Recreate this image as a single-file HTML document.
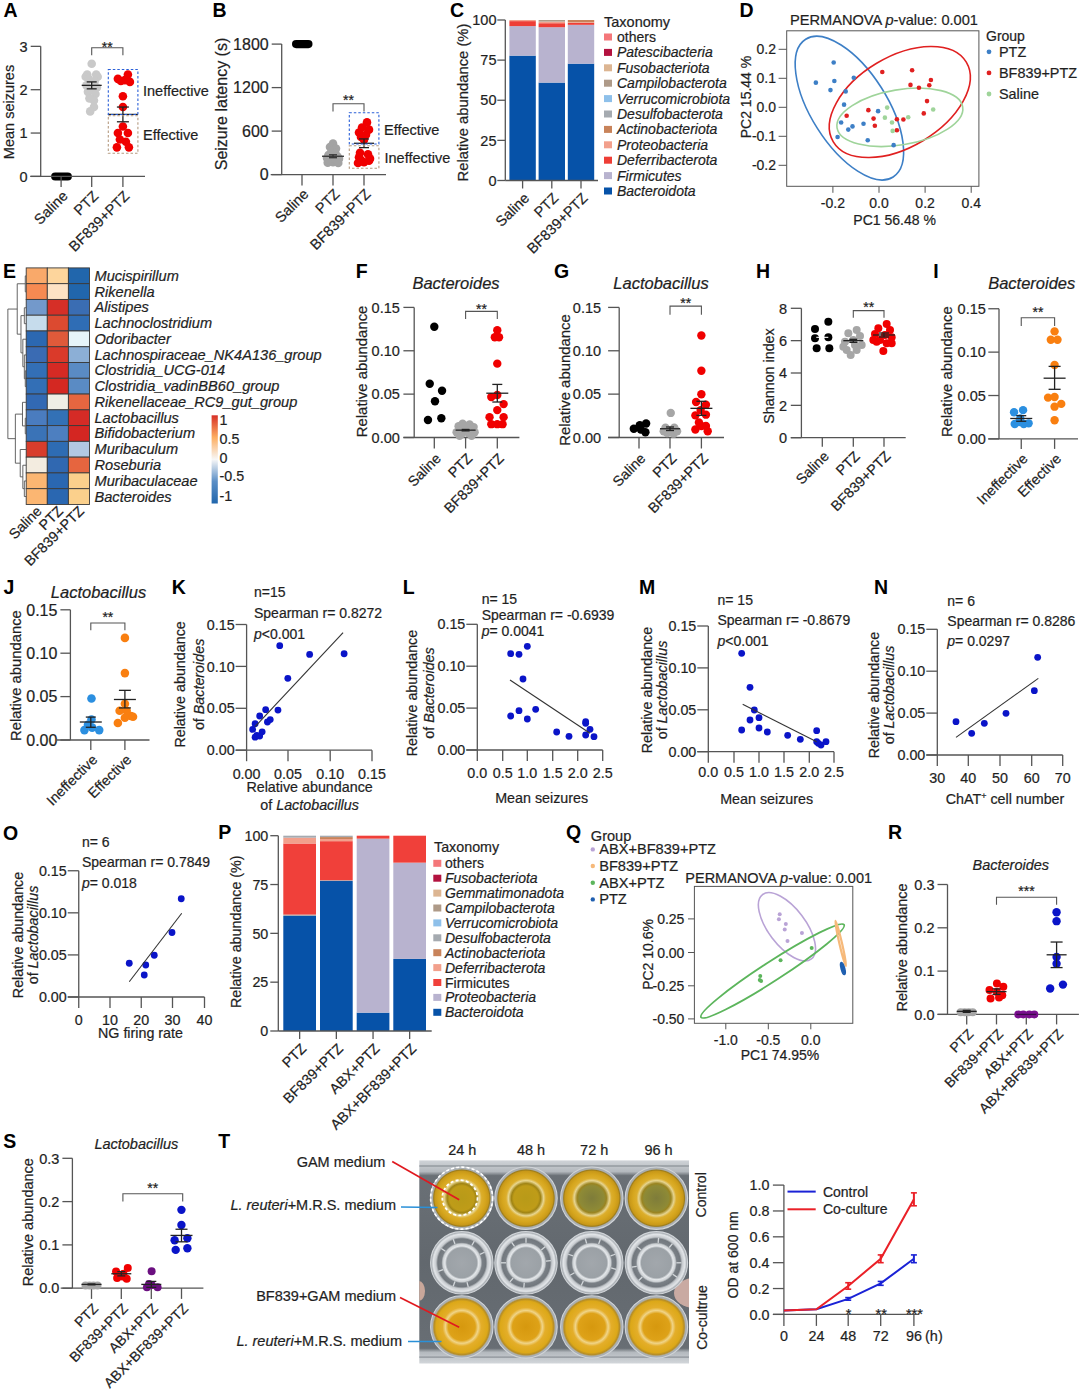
<!DOCTYPE html>
<html><head><meta charset="utf-8"><title>Figure</title>
<style>html,body{margin:0;padding:0;background:#fff;}svg{display:block;}text{font-family:"Liberation Sans", sans-serif;} .tx{stroke:#1f1f1f;stroke-width:0.22px;}</style>
</head><body>
<svg width="1080" height="1389" viewBox="0 0 1080 1389" font-family='"Liberation Sans", sans-serif'>
<rect width="1080" height="1389" fill="#fff"/>
<text x="3.50" y="16.50" font-size="19.5" text-anchor="start" fill="#000" font-weight="bold" >A</text>
<rect x="51.10" y="172.40" width="20.80" height="8.20" fill="#000" rx="4.1"/>
<circle cx="91.70" cy="63.69" r="4.30" fill="#c9c9c9"/>
<circle cx="87.20" cy="74.53" r="4.30" fill="#c9c9c9"/>
<circle cx="96.20" cy="74.53" r="4.30" fill="#c9c9c9"/>
<circle cx="85.70" cy="76.70" r="4.30" fill="#c9c9c9"/>
<circle cx="97.70" cy="76.70" r="4.30" fill="#c9c9c9"/>
<circle cx="88.70" cy="78.86" r="4.30" fill="#c9c9c9"/>
<circle cx="94.70" cy="81.03" r="4.30" fill="#c9c9c9"/>
<circle cx="86.45" cy="85.36" r="4.30" fill="#c9c9c9"/>
<circle cx="96.95" cy="87.53" r="4.30" fill="#c9c9c9"/>
<circle cx="91.70" cy="89.70" r="4.30" fill="#c9c9c9"/>
<circle cx="87.95" cy="91.87" r="4.30" fill="#c9c9c9"/>
<circle cx="95.45" cy="94.04" r="4.30" fill="#c9c9c9"/>
<circle cx="89.45" cy="98.37" r="4.30" fill="#c9c9c9"/>
<circle cx="93.95" cy="100.54" r="4.30" fill="#c9c9c9"/>
<circle cx="93.95" cy="107.04" r="4.30" fill="#c9c9c9"/>
<circle cx="90.20" cy="111.38" r="4.30" fill="#c9c9c9"/>
<line x1="81.70" y1="85.36" x2="101.70" y2="85.36" stroke="#222" stroke-width="1.3"/>
<line x1="91.70" y1="81.90" x2="91.70" y2="88.83" stroke="#222" stroke-width="1.3"/>
<line x1="86.70" y1="81.90" x2="96.70" y2="81.90" stroke="#222" stroke-width="1.3"/>
<line x1="86.70" y1="88.83" x2="96.70" y2="88.83" stroke="#222" stroke-width="1.3"/>
<circle cx="117.90" cy="78.86" r="4.30" fill="#f00000"/>
<circle cx="127.90" cy="74.53" r="4.30" fill="#f00000"/>
<circle cx="124.90" cy="80.16" r="4.30" fill="#f00000"/>
<circle cx="129.90" cy="81.90" r="4.30" fill="#f00000"/>
<circle cx="120.90" cy="81.03" r="4.30" fill="#f00000"/>
<circle cx="122.90" cy="96.20" r="4.30" fill="#f00000"/>
<circle cx="122.90" cy="107.04" r="4.30" fill="#f00000"/>
<circle cx="122.90" cy="126.55" r="4.30" fill="#f00000"/>
<circle cx="117.90" cy="133.05" r="4.30" fill="#f00000"/>
<circle cx="127.90" cy="133.05" r="4.30" fill="#f00000"/>
<circle cx="119.90" cy="139.55" r="4.30" fill="#f00000"/>
<circle cx="125.90" cy="141.72" r="4.30" fill="#f00000"/>
<circle cx="116.90" cy="147.36" r="4.30" fill="#f00000"/>
<circle cx="128.90" cy="147.36" r="4.30" fill="#f00000"/>
<line x1="107.90" y1="114.41" x2="137.90" y2="114.41" stroke="#222" stroke-width="1.3"/>
<line x1="122.90" y1="107.04" x2="122.90" y2="121.78" stroke="#222" stroke-width="1.3"/>
<line x1="116.90" y1="107.04" x2="128.90" y2="107.04" stroke="#222" stroke-width="1.3"/>
<line x1="116.90" y1="121.78" x2="128.90" y2="121.78" stroke="#222" stroke-width="1.3"/>
<rect x="108.3" y="69.5" width="29.6" height="45" fill="none" stroke="#2a5fd8" stroke-width="1.1" stroke-dasharray="2.5,2"/>
<rect x="108.3" y="115.8" width="29.6" height="37.5" fill="none" stroke="#b59a80" stroke-width="1.1" stroke-dasharray="2.5,2"/>
<line x1="40.70" y1="46.35" x2="40.70" y2="176.40" stroke="#555555" stroke-width="1.3"/>
<line x1="30.70" y1="46.35" x2="40.70" y2="46.35" stroke="#555555" stroke-width="1.3"/>
<text x="27.70" y="51.57" font-size="14.5" text-anchor="end" fill="#1f1f1f" class="tx" >3</text>
<line x1="30.70" y1="89.70" x2="40.70" y2="89.70" stroke="#555555" stroke-width="1.3"/>
<text x="27.70" y="94.92" font-size="14.5" text-anchor="end" fill="#1f1f1f" class="tx" >2</text>
<line x1="30.70" y1="133.05" x2="40.70" y2="133.05" stroke="#555555" stroke-width="1.3"/>
<text x="27.70" y="138.27" font-size="14.5" text-anchor="end" fill="#1f1f1f" class="tx" >1</text>
<line x1="30.70" y1="176.40" x2="40.70" y2="176.40" stroke="#555555" stroke-width="1.3"/>
<text x="27.70" y="181.62" font-size="14.5" text-anchor="end" fill="#1f1f1f" class="tx" >0</text>
<line x1="30.20" y1="176.40" x2="145.00" y2="176.40" stroke="#555555" stroke-width="1.3"/>
<line x1="61.10" y1="176.40" x2="61.10" y2="187.10" stroke="#555555" stroke-width="1.3"/>
<line x1="91.70" y1="176.40" x2="91.70" y2="187.10" stroke="#555555" stroke-width="1.3"/>
<line x1="122.90" y1="176.40" x2="122.90" y2="187.10" stroke="#555555" stroke-width="1.3"/>
<text x="68.60" y="196.90" font-size="14.5" text-anchor="end" fill="#1f1f1f" class="tx"  transform="rotate(-45 68.60 196.90)">Saline</text>
<text x="99.20" y="196.90" font-size="14.5" text-anchor="end" fill="#1f1f1f" class="tx"  transform="rotate(-45 99.20 196.90)">PTZ</text>
<text x="130.40" y="196.90" font-size="14.5" text-anchor="end" fill="#1f1f1f" class="tx"  transform="rotate(-45 130.40 196.90)">BF839+PTZ</text>
<text x="14.00" y="112.00" font-size="14.5" text-anchor="middle" fill="#1f1f1f" class="tx"  transform="rotate(-90 14.00 112.00)">Mean seizures</text>
<path d="M91.70,55.20 V47.80 H122.90 V55.20" stroke="#555555" fill="none" stroke-width="1.1"/>
<text x="107.30" y="51.90" font-size="14" text-anchor="middle" fill="#1f1f1f" class="tx" >**</text>
<text x="143.00" y="96.00" font-size="14.5" text-anchor="start" fill="#1f1f1f" class="tx" >Ineffective</text>
<text x="143.00" y="140.00" font-size="14.5" text-anchor="start" fill="#1f1f1f" class="tx" >Effective</text>
<text x="212.50" y="16.50" font-size="19.5" text-anchor="start" fill="#000" font-weight="bold" >B</text>
<rect x="292.00" y="40.00" width="20.50" height="8.20" fill="#000" rx="4.1"/>
<circle cx="333.00" cy="143.43" r="4.30" fill="#a3a3a3"/>
<circle cx="330.00" cy="147.05" r="4.30" fill="#a3a3a3"/>
<circle cx="336.00" cy="148.50" r="4.30" fill="#a3a3a3"/>
<circle cx="331.50" cy="150.68" r="4.30" fill="#a3a3a3"/>
<circle cx="335.25" cy="152.85" r="4.30" fill="#a3a3a3"/>
<circle cx="328.50" cy="155.03" r="4.30" fill="#a3a3a3"/>
<circle cx="337.50" cy="156.47" r="4.30" fill="#a3a3a3"/>
<circle cx="327.00" cy="157.93" r="4.30" fill="#a3a3a3"/>
<circle cx="339.00" cy="158.65" r="4.30" fill="#a3a3a3"/>
<circle cx="329.25" cy="160.10" r="4.30" fill="#a3a3a3"/>
<circle cx="336.75" cy="160.82" r="4.30" fill="#a3a3a3"/>
<circle cx="333.00" cy="162.28" r="4.30" fill="#a3a3a3"/>
<circle cx="327.75" cy="162.64" r="4.30" fill="#a3a3a3"/>
<circle cx="338.25" cy="163.00" r="4.30" fill="#a3a3a3"/>
<line x1="322.00" y1="156.26" x2="344.00" y2="156.26" stroke="#333" stroke-width="1.3"/>
<line x1="333.00" y1="154.81" x2="333.00" y2="157.71" stroke="#333" stroke-width="1.3"/>
<line x1="329.00" y1="154.81" x2="337.00" y2="154.81" stroke="#333" stroke-width="1.3"/>
<line x1="329.00" y1="157.71" x2="337.00" y2="157.71" stroke="#333" stroke-width="1.3"/>
<circle cx="367.00" cy="122.40" r="4.30" fill="#f00000"/>
<circle cx="362.00" cy="127.47" r="4.30" fill="#f00000"/>
<circle cx="369.00" cy="129.65" r="4.30" fill="#f00000"/>
<circle cx="359.00" cy="132.55" r="4.30" fill="#f00000"/>
<circle cx="366.00" cy="134.72" r="4.30" fill="#f00000"/>
<circle cx="361.00" cy="136.90" r="4.30" fill="#f00000"/>
<circle cx="364.00" cy="139.80" r="4.30" fill="#f00000"/>
<circle cx="360.00" cy="152.85" r="4.30" fill="#f00000"/>
<circle cx="368.00" cy="154.30" r="4.30" fill="#f00000"/>
<circle cx="359.00" cy="157.20" r="4.30" fill="#f00000"/>
<circle cx="370.00" cy="158.65" r="4.30" fill="#f00000"/>
<circle cx="361.00" cy="160.10" r="4.30" fill="#f00000"/>
<circle cx="369.00" cy="160.82" r="4.30" fill="#f00000"/>
<circle cx="364.00" cy="162.28" r="4.30" fill="#f00000"/>
<circle cx="358.00" cy="163.00" r="4.30" fill="#f00000"/>
<line x1="354.00" y1="143.28" x2="374.00" y2="143.28" stroke="#222" stroke-width="1.3"/>
<line x1="364.00" y1="138.93" x2="364.00" y2="147.63" stroke="#222" stroke-width="1.3"/>
<line x1="359.00" y1="138.93" x2="369.00" y2="138.93" stroke="#222" stroke-width="1.3"/>
<line x1="359.00" y1="147.63" x2="369.00" y2="147.63" stroke="#222" stroke-width="1.3"/>
<rect x="349.3" y="112.8" width="29.6" height="31.2" fill="none" stroke="#2a5fd8" stroke-width="1.1" stroke-dasharray="2.5,2"/>
<rect x="349.3" y="145.8" width="29.6" height="22.5" fill="none" stroke="#b59a80" stroke-width="1.1" stroke-dasharray="2.5,2"/>
<line x1="281.70" y1="44.10" x2="281.70" y2="174.60" stroke="#555555" stroke-width="1.3"/>
<line x1="271.70" y1="44.10" x2="281.70" y2="44.10" stroke="#555555" stroke-width="1.3"/>
<text x="268.70" y="49.86" font-size="16" text-anchor="end" fill="#1f1f1f" class="tx" >1800</text>
<line x1="271.70" y1="87.60" x2="281.70" y2="87.60" stroke="#555555" stroke-width="1.3"/>
<text x="268.70" y="93.36" font-size="16" text-anchor="end" fill="#1f1f1f" class="tx" >1200</text>
<line x1="271.70" y1="131.10" x2="281.70" y2="131.10" stroke="#555555" stroke-width="1.3"/>
<text x="268.70" y="136.86" font-size="16" text-anchor="end" fill="#1f1f1f" class="tx" >600</text>
<line x1="271.70" y1="174.60" x2="281.70" y2="174.60" stroke="#555555" stroke-width="1.3"/>
<text x="268.70" y="180.36" font-size="16" text-anchor="end" fill="#1f1f1f" class="tx" >0</text>
<line x1="270.70" y1="174.60" x2="386.00" y2="174.60" stroke="#555555" stroke-width="1.3"/>
<line x1="302.00" y1="174.60" x2="302.00" y2="185.60" stroke="#555555" stroke-width="1.3"/>
<line x1="333.00" y1="174.60" x2="333.00" y2="185.60" stroke="#555555" stroke-width="1.3"/>
<line x1="364.00" y1="174.60" x2="364.00" y2="185.60" stroke="#555555" stroke-width="1.3"/>
<text x="309.50" y="195.10" font-size="14.5" text-anchor="end" fill="#1f1f1f" class="tx"  transform="rotate(-45 309.50 195.10)">Saline</text>
<text x="340.50" y="195.10" font-size="14.5" text-anchor="end" fill="#1f1f1f" class="tx"  transform="rotate(-45 340.50 195.10)">PTZ</text>
<text x="371.50" y="195.10" font-size="14.5" text-anchor="end" fill="#1f1f1f" class="tx"  transform="rotate(-45 371.50 195.10)">BF839+PTZ</text>
<text x="226.50" y="104.00" font-size="16" text-anchor="middle" fill="#1f1f1f" class="tx"  transform="rotate(-90 226.50 104.00)">Seizure latency (s)</text>
<path d="M333.00,111.45 V103.75 H364.00 V111.45" stroke="#555555" fill="none" stroke-width="1.1"/>
<text x="348.50" y="105.45" font-size="14" text-anchor="middle" fill="#1f1f1f" class="tx" >**</text>
<text x="384.00" y="135.00" font-size="14.5" text-anchor="start" fill="#1f1f1f" class="tx" >Effective</text>
<text x="384.50" y="163.00" font-size="14.5" text-anchor="start" fill="#1f1f1f" class="tx" >Ineffective</text>
<text x="450.00" y="16.50" font-size="19.5" text-anchor="start" fill="#000" font-weight="bold" >C</text>
<rect x="509.40" y="55.63" width="26.40" height="124.87" fill="#0652a8"/>
<rect x="509.40" y="26.10" width="26.40" height="29.53" fill="#b8b3cf"/>
<rect x="509.40" y="21.12" width="26.40" height="4.98" fill="#ee3e36"/>
<rect x="509.40" y="20.00" width="26.40" height="1.12" fill="#f2a08c"/>
<rect x="538.60" y="82.59" width="26.40" height="97.91" fill="#0652a8"/>
<rect x="538.60" y="27.22" width="26.40" height="55.37" fill="#b8b3cf"/>
<rect x="538.60" y="23.21" width="26.40" height="4.01" fill="#ee3e36"/>
<rect x="538.60" y="21.60" width="26.40" height="1.61" fill="#f2a08c"/>
<rect x="538.60" y="20.00" width="26.40" height="1.60" fill="#ae9a88"/>
<rect x="567.80" y="63.66" width="26.40" height="116.84" fill="#0652a8"/>
<rect x="567.80" y="24.81" width="26.40" height="38.84" fill="#b8b3cf"/>
<rect x="567.80" y="22.89" width="26.40" height="1.93" fill="#ee3e36"/>
<rect x="567.80" y="22.25" width="26.40" height="0.64" fill="#f2a08c"/>
<rect x="567.80" y="20.00" width="26.40" height="2.25" fill="#c8835a"/>
<line x1="505.30" y1="20.00" x2="505.30" y2="180.50" stroke="#555555" stroke-width="1.3"/>
<line x1="497.30" y1="20.00" x2="505.30" y2="20.00" stroke="#555555" stroke-width="1.3"/>
<text x="496.50" y="25.22" font-size="14.5" text-anchor="end" fill="#1f1f1f" class="tx" >100</text>
<line x1="497.30" y1="60.12" x2="505.30" y2="60.12" stroke="#555555" stroke-width="1.3"/>
<text x="496.50" y="65.34" font-size="14.5" text-anchor="end" fill="#1f1f1f" class="tx" >75</text>
<line x1="497.30" y1="100.25" x2="505.30" y2="100.25" stroke="#555555" stroke-width="1.3"/>
<text x="496.50" y="105.47" font-size="14.5" text-anchor="end" fill="#1f1f1f" class="tx" >50</text>
<line x1="497.30" y1="140.38" x2="505.30" y2="140.38" stroke="#555555" stroke-width="1.3"/>
<text x="496.50" y="145.59" font-size="14.5" text-anchor="end" fill="#1f1f1f" class="tx" >25</text>
<line x1="497.30" y1="180.50" x2="505.30" y2="180.50" stroke="#555555" stroke-width="1.3"/>
<text x="496.50" y="185.72" font-size="14.5" text-anchor="end" fill="#1f1f1f" class="tx" >0</text>
<line x1="505.30" y1="180.50" x2="598.00" y2="180.50" stroke="#555555" stroke-width="1.3"/>
<line x1="522.60" y1="180.50" x2="522.60" y2="188.50" stroke="#555555" stroke-width="1.3"/>
<line x1="551.80" y1="180.50" x2="551.80" y2="188.50" stroke="#555555" stroke-width="1.3"/>
<line x1="581.00" y1="180.50" x2="581.00" y2="188.50" stroke="#555555" stroke-width="1.3"/>
<text x="530.10" y="199.00" font-size="14.5" text-anchor="end" fill="#1f1f1f" class="tx"  transform="rotate(-45 530.10 199.00)">Saline</text>
<text x="559.30" y="199.00" font-size="14.5" text-anchor="end" fill="#1f1f1f" class="tx"  transform="rotate(-45 559.30 199.00)">PTZ</text>
<text x="588.50" y="199.00" font-size="14.5" text-anchor="end" fill="#1f1f1f" class="tx"  transform="rotate(-45 588.50 199.00)">BF839+PTZ</text>
<text x="468.00" y="102.50" font-size="14.8" text-anchor="middle" fill="#1f1f1f" class="tx"  transform="rotate(-90 468.00 102.50)">Relative abundance (%)</text>
<text x="604.00" y="27.00" font-size="14.5" text-anchor="start" fill="#1f1f1f" class="tx" >Taxonomy</text>
<rect x="604.00" y="33.50" width="8.00" height="7.00" fill="#f4777a"/>
<text x="617.00" y="42.00" font-size="14" text-anchor="start" fill="#1f1f1f" class="tx" >others</text>
<rect x="604.00" y="48.90" width="8.00" height="7.00" fill="#b3123f"/>
<text x="617.00" y="57.40" font-size="14" text-anchor="start" fill="#1f1f1f" class="tx" font-style="italic" >Patescibacteria</text>
<rect x="604.00" y="64.30" width="8.00" height="7.00" fill="#dcb592"/>
<text x="617.00" y="72.80" font-size="14" text-anchor="start" fill="#1f1f1f" class="tx" font-style="italic" >Fusobacteriota</text>
<rect x="604.00" y="79.70" width="8.00" height="7.00" fill="#ae9a88"/>
<text x="617.00" y="88.20" font-size="14" text-anchor="start" fill="#1f1f1f" class="tx" font-style="italic" >Campilobacterota</text>
<rect x="604.00" y="95.10" width="8.00" height="7.00" fill="#8ec0ea"/>
<text x="617.00" y="103.60" font-size="14" text-anchor="start" fill="#1f1f1f" class="tx" font-style="italic" >Verrucomicrobiota</text>
<rect x="604.00" y="110.50" width="8.00" height="7.00" fill="#a5aab0"/>
<text x="617.00" y="119.00" font-size="14" text-anchor="start" fill="#1f1f1f" class="tx" font-style="italic" >Desulfobacterota</text>
<rect x="604.00" y="125.90" width="8.00" height="7.00" fill="#c8835a"/>
<text x="617.00" y="134.40" font-size="14" text-anchor="start" fill="#1f1f1f" class="tx" font-style="italic" >Actinobacteriota</text>
<rect x="604.00" y="141.30" width="8.00" height="7.00" fill="#f2a08c"/>
<text x="617.00" y="149.80" font-size="14" text-anchor="start" fill="#1f1f1f" class="tx" font-style="italic" >Proteobacteria</text>
<rect x="604.00" y="156.70" width="8.00" height="7.00" fill="#ee3e36"/>
<text x="617.00" y="165.20" font-size="14" text-anchor="start" fill="#1f1f1f" class="tx" font-style="italic" >Deferribacterota</text>
<rect x="604.00" y="172.10" width="8.00" height="7.00" fill="#b8b3cf"/>
<text x="617.00" y="180.60" font-size="14" text-anchor="start" fill="#1f1f1f" class="tx" font-style="italic" >Firmicutes</text>
<rect x="604.00" y="187.50" width="8.00" height="7.00" fill="#0652a8"/>
<text x="617.00" y="196.00" font-size="14" text-anchor="start" fill="#1f1f1f" class="tx" font-style="italic" >Bacteroidota</text>
<text x="739.50" y="16.50" font-size="19.5" text-anchor="start" fill="#000" font-weight="bold" >D</text>
<text x="790.00" y="25.00" font-size="14.6" text-anchor="start" fill="#1f1f1f" class="tx" >PERMANOVA <tspan font-style="italic">p</tspan>-value: 0.001</text>
<rect x="786.7" y="30.8" width="192.19999999999993" height="155.5" fill="none" stroke="#555" stroke-width="1"/>
<line x1="778.60" y1="49.30" x2="786.70" y2="49.30" stroke="#555" stroke-width="1"/>
<text x="776.00" y="54.30" font-size="14" text-anchor="end" fill="#1f1f1f" class="tx" >0.2</text>
<line x1="778.60" y1="78.30" x2="786.70" y2="78.30" stroke="#555" stroke-width="1"/>
<text x="776.00" y="83.30" font-size="14" text-anchor="end" fill="#1f1f1f" class="tx" >0.1</text>
<line x1="778.60" y1="107.30" x2="786.70" y2="107.30" stroke="#555" stroke-width="1"/>
<text x="776.00" y="112.30" font-size="14" text-anchor="end" fill="#1f1f1f" class="tx" >0.0</text>
<line x1="778.60" y1="136.30" x2="786.70" y2="136.30" stroke="#555" stroke-width="1"/>
<text x="776.00" y="141.30" font-size="14" text-anchor="end" fill="#1f1f1f" class="tx" >-0.1</text>
<line x1="778.60" y1="165.30" x2="786.70" y2="165.30" stroke="#555" stroke-width="1"/>
<text x="776.00" y="170.30" font-size="14" text-anchor="end" fill="#1f1f1f" class="tx" >-0.2</text>
<line x1="832.90" y1="186.30" x2="832.90" y2="192.80" stroke="#555" stroke-width="1"/>
<text x="832.90" y="207.50" font-size="14" text-anchor="middle" fill="#1f1f1f" class="tx" >-0.2</text>
<line x1="879.00" y1="186.30" x2="879.00" y2="192.80" stroke="#555" stroke-width="1"/>
<text x="879.00" y="207.50" font-size="14" text-anchor="middle" fill="#1f1f1f" class="tx" >0.0</text>
<line x1="925.10" y1="186.30" x2="925.10" y2="192.80" stroke="#555" stroke-width="1"/>
<text x="925.10" y="207.50" font-size="14" text-anchor="middle" fill="#1f1f1f" class="tx" >0.2</text>
<line x1="971.20" y1="186.30" x2="971.20" y2="192.80" stroke="#555" stroke-width="1"/>
<text x="971.20" y="207.50" font-size="14" text-anchor="middle" fill="#1f1f1f" class="tx" >0.4</text>
<text x="894.60" y="225.00" font-size="14" text-anchor="middle" fill="#1f1f1f" class="tx" >PC1 56.48 %</text>
<text x="751.00" y="97.00" font-size="14" text-anchor="middle" fill="#1f1f1f" class="tx"  transform="rotate(-90 751.00 97.00)">PC2 15.44 %</text>
<ellipse cx="849.4" cy="108.1" rx="81.6" ry="37.9" transform="rotate(57.6 849.4 108.1)" fill="none" stroke="#3d7fc6" stroke-width="1.6"/>
<ellipse cx="899.8" cy="102" rx="77.5" ry="45.1" transform="rotate(-30.9 899.8 102)" fill="none" stroke="#e02020" stroke-width="1.6"/>
<ellipse cx="899.85" cy="117.35" rx="63.7" ry="27.6" transform="rotate(-9.55 899.85 117.35)" fill="none" stroke="#9fd49a" stroke-width="1.6"/>
<circle cx="815.87" cy="82.63" r="2.30" fill="#3d7fc6"/>
<circle cx="833.69" cy="62.54" r="2.30" fill="#3d7fc6"/>
<circle cx="834.34" cy="81.01" r="2.30" fill="#3d7fc6"/>
<circle cx="830.45" cy="90.08" r="2.30" fill="#3d7fc6"/>
<circle cx="853.78" cy="77.77" r="2.30" fill="#3d7fc6"/>
<circle cx="845.68" cy="91.38" r="2.30" fill="#3d7fc6"/>
<circle cx="844.06" cy="104.67" r="2.30" fill="#3d7fc6"/>
<circle cx="841.15" cy="122.49" r="2.30" fill="#3d7fc6"/>
<circle cx="852.49" cy="126.38" r="2.30" fill="#3d7fc6"/>
<circle cx="848.28" cy="129.62" r="2.30" fill="#3d7fc6"/>
<circle cx="837.58" cy="137.07" r="2.30" fill="#3d7fc6"/>
<circle cx="863.51" cy="123.78" r="2.30" fill="#3d7fc6"/>
<circle cx="867.72" cy="140.31" r="2.30" fill="#3d7fc6"/>
<circle cx="878.09" cy="111.15" r="2.30" fill="#3d7fc6"/>
<circle cx="893.64" cy="145.17" r="2.30" fill="#3d7fc6"/>
<circle cx="882.30" cy="71.94" r="2.30" fill="#e02020"/>
<circle cx="912.11" cy="70.32" r="2.30" fill="#e02020"/>
<circle cx="910.49" cy="84.90" r="2.30" fill="#e02020"/>
<circle cx="930.91" cy="80.04" r="2.30" fill="#e02020"/>
<circle cx="929.29" cy="85.22" r="2.30" fill="#e02020"/>
<circle cx="918.92" cy="87.82" r="2.30" fill="#e02020"/>
<circle cx="927.02" cy="101.10" r="2.30" fill="#e02020"/>
<circle cx="923.78" cy="113.42" r="2.30" fill="#e02020"/>
<circle cx="868.37" cy="110.17" r="2.30" fill="#e02020"/>
<circle cx="846.66" cy="115.68" r="2.30" fill="#e02020"/>
<circle cx="873.55" cy="118.60" r="2.30" fill="#e02020"/>
<circle cx="874.85" cy="125.73" r="2.30" fill="#e02020"/>
<circle cx="896.88" cy="119.25" r="2.30" fill="#e02020"/>
<circle cx="903.36" cy="119.57" r="2.30" fill="#e02020"/>
<circle cx="896.88" cy="130.27" r="2.30" fill="#e02020"/>
<circle cx="887.16" cy="107.58" r="2.30" fill="#9fd49a"/>
<circle cx="884.89" cy="117.63" r="2.30" fill="#9fd49a"/>
<circle cx="892.02" cy="122.49" r="2.30" fill="#9fd49a"/>
<circle cx="892.67" cy="130.91" r="2.30" fill="#9fd49a"/>
<circle cx="908.22" cy="117.30" r="2.30" fill="#9fd49a"/>
<circle cx="933.18" cy="109.53" r="2.30" fill="#9fd49a"/>
<text x="986.00" y="40.50" font-size="14" text-anchor="start" fill="#1f1f1f" class="tx" >Group</text>
<circle cx="989.00" cy="51.80" r="2.40" fill="#3d7fc6"/>
<text x="999.00" y="56.80" font-size="14.4" text-anchor="start" fill="#1f1f1f" class="tx" >PTZ</text>
<circle cx="989.00" cy="72.90" r="2.40" fill="#e02020"/>
<text x="999.00" y="77.90" font-size="14.4" text-anchor="start" fill="#1f1f1f" class="tx" >BF839+PTZ</text>
<circle cx="989.00" cy="94.00" r="2.40" fill="#9fd49a"/>
<text x="999.00" y="99.00" font-size="14.4" text-anchor="start" fill="#1f1f1f" class="tx" >Saline</text>
<text x="3.00" y="277.50" font-size="19.5" text-anchor="start" fill="#000" font-weight="bold" >E</text>
<rect x="26.20" y="267.90" width="21.10" height="15.77" fill="#f9a96a" stroke="#3a3a3a" stroke-width="0.9"/>
<rect x="47.30" y="267.90" width="21.10" height="15.77" fill="#fdd59c" stroke="#3a3a3a" stroke-width="0.9"/>
<rect x="68.40" y="267.90" width="21.10" height="15.77" fill="#2166ac" stroke="#3a3a3a" stroke-width="0.9"/>
<text x="94.50" y="280.78" font-size="14.6" text-anchor="start" fill="#1f1f1f" class="tx" font-style="italic" >Mucispirillum</text>
<rect x="26.20" y="283.67" width="21.10" height="15.77" fill="#f68a52" stroke="#3a3a3a" stroke-width="0.9"/>
<rect x="47.30" y="283.67" width="21.10" height="15.77" fill="#fde2c4" stroke="#3a3a3a" stroke-width="0.9"/>
<rect x="68.40" y="283.67" width="21.10" height="15.77" fill="#2166ac" stroke="#3a3a3a" stroke-width="0.9"/>
<text x="94.50" y="296.55" font-size="14.6" text-anchor="start" fill="#1f1f1f" class="tx" font-style="italic" >Rikenella</text>
<rect x="26.20" y="299.44" width="21.10" height="15.77" fill="#7399cb" stroke="#3a3a3a" stroke-width="0.9"/>
<rect x="47.30" y="299.44" width="21.10" height="15.77" fill="#d62f27" stroke="#3a3a3a" stroke-width="0.9"/>
<rect x="68.40" y="299.44" width="21.10" height="15.77" fill="#3a6db3" stroke="#3a3a3a" stroke-width="0.9"/>
<text x="94.50" y="312.32" font-size="14.6" text-anchor="start" fill="#1f1f1f" class="tx" font-style="italic" >Alistipes</text>
<rect x="26.20" y="315.21" width="21.10" height="15.77" fill="#c6dcec" stroke="#3a3a3a" stroke-width="0.9"/>
<rect x="47.30" y="315.21" width="21.10" height="15.77" fill="#dc4a30" stroke="#3a3a3a" stroke-width="0.9"/>
<rect x="68.40" y="315.21" width="21.10" height="15.77" fill="#2f6db5" stroke="#3a3a3a" stroke-width="0.9"/>
<text x="94.50" y="328.09" font-size="14.6" text-anchor="start" fill="#1f1f1f" class="tx" font-style="italic" >Lachnoclostridium</text>
<rect x="26.20" y="330.98" width="21.10" height="15.77" fill="#2c68b1" stroke="#3a3a3a" stroke-width="0.9"/>
<rect x="47.30" y="330.98" width="21.10" height="15.77" fill="#e05a3a" stroke="#3a3a3a" stroke-width="0.9"/>
<rect x="68.40" y="330.98" width="21.10" height="15.77" fill="#e6f4f9" stroke="#3a3a3a" stroke-width="0.9"/>
<text x="94.50" y="343.86" font-size="14.6" text-anchor="start" fill="#1f1f1f" class="tx" font-style="italic" >Odoribacter</text>
<rect x="26.20" y="346.75" width="21.10" height="15.77" fill="#3a6bb3" stroke="#3a3a3a" stroke-width="0.9"/>
<rect x="47.30" y="346.75" width="21.10" height="15.77" fill="#da3a2a" stroke="#3a3a3a" stroke-width="0.9"/>
<rect x="68.40" y="346.75" width="21.10" height="15.77" fill="#8cafd6" stroke="#3a3a3a" stroke-width="0.9"/>
<text x="94.50" y="359.63" font-size="14.6" text-anchor="start" fill="#1f1f1f" class="tx" font-style="italic" >Lachnospiraceae_NK4A136_group</text>
<rect x="26.20" y="362.52" width="21.10" height="15.77" fill="#336fb6" stroke="#3a3a3a" stroke-width="0.9"/>
<rect x="47.30" y="362.52" width="21.10" height="15.77" fill="#d52a24" stroke="#3a3a3a" stroke-width="0.9"/>
<rect x="68.40" y="362.52" width="21.10" height="15.77" fill="#5a8bc4" stroke="#3a3a3a" stroke-width="0.9"/>
<text x="94.50" y="375.40" font-size="14.6" text-anchor="start" fill="#1f1f1f" class="tx" font-style="italic" >Clostridia_UCG-014</text>
<rect x="26.20" y="378.29" width="21.10" height="15.77" fill="#336fb6" stroke="#3a3a3a" stroke-width="0.9"/>
<rect x="47.30" y="378.29" width="21.10" height="15.77" fill="#d42822" stroke="#3a3a3a" stroke-width="0.9"/>
<rect x="68.40" y="378.29" width="21.10" height="15.77" fill="#5a8bc4" stroke="#3a3a3a" stroke-width="0.9"/>
<text x="94.50" y="391.17" font-size="14.6" text-anchor="start" fill="#1f1f1f" class="tx" font-style="italic" >Clostridia_vadinBB60_group</text>
<rect x="26.20" y="394.06" width="21.10" height="15.77" fill="#3269b3" stroke="#3a3a3a" stroke-width="0.9"/>
<rect x="47.30" y="394.06" width="21.10" height="15.77" fill="#efefe6" stroke="#3a3a3a" stroke-width="0.9"/>
<rect x="68.40" y="394.06" width="21.10" height="15.77" fill="#e56640" stroke="#3a3a3a" stroke-width="0.9"/>
<text x="94.50" y="406.94" font-size="14.6" text-anchor="start" fill="#1f1f1f" class="tx" font-style="italic" >Rikenellaceae_RC9_gut_group</text>
<rect x="26.20" y="409.83" width="21.10" height="15.77" fill="#4a7cbf" stroke="#3a3a3a" stroke-width="0.9"/>
<rect x="47.30" y="409.83" width="21.10" height="15.77" fill="#3371b6" stroke="#3a3a3a" stroke-width="0.9"/>
<rect x="68.40" y="409.83" width="21.10" height="15.77" fill="#d52b26" stroke="#3a3a3a" stroke-width="0.9"/>
<text x="94.50" y="422.71" font-size="14.6" text-anchor="start" fill="#1f1f1f" class="tx" font-style="italic" >Lactobacillus</text>
<rect x="26.20" y="425.60" width="21.10" height="15.77" fill="#3a73b7" stroke="#3a3a3a" stroke-width="0.9"/>
<rect x="47.30" y="425.60" width="21.10" height="15.77" fill="#4d7fc0" stroke="#3a3a3a" stroke-width="0.9"/>
<rect x="68.40" y="425.60" width="21.10" height="15.77" fill="#d42622" stroke="#3a3a3a" stroke-width="0.9"/>
<text x="94.50" y="438.48" font-size="14.6" text-anchor="start" fill="#1f1f1f" class="tx" font-style="italic" >Bifidobacterium</text>
<rect x="26.20" y="441.37" width="21.10" height="15.77" fill="#d83d2c" stroke="#3a3a3a" stroke-width="0.9"/>
<rect x="47.30" y="441.37" width="21.10" height="15.77" fill="#2e6cb3" stroke="#3a3a3a" stroke-width="0.9"/>
<rect x="68.40" y="441.37" width="21.10" height="15.77" fill="#b2c8e2" stroke="#3a3a3a" stroke-width="0.9"/>
<text x="94.50" y="454.25" font-size="14.6" text-anchor="start" fill="#1f1f1f" class="tx" font-style="italic" >Muribaculum</text>
<rect x="26.20" y="457.14" width="21.10" height="15.77" fill="#f3ece0" stroke="#3a3a3a" stroke-width="0.9"/>
<rect x="47.30" y="457.14" width="21.10" height="15.77" fill="#3068b1" stroke="#3a3a3a" stroke-width="0.9"/>
<rect x="68.40" y="457.14" width="21.10" height="15.77" fill="#e6653f" stroke="#3a3a3a" stroke-width="0.9"/>
<text x="94.50" y="470.02" font-size="14.6" text-anchor="start" fill="#1f1f1f" class="tx" font-style="italic" >Roseburia</text>
<rect x="26.20" y="472.91" width="21.10" height="15.77" fill="#fbb672" stroke="#3a3a3a" stroke-width="0.9"/>
<rect x="47.30" y="472.91" width="21.10" height="15.77" fill="#2a67b1" stroke="#3a3a3a" stroke-width="0.9"/>
<rect x="68.40" y="472.91" width="21.10" height="15.77" fill="#fbd08c" stroke="#3a3a3a" stroke-width="0.9"/>
<text x="94.50" y="485.79" font-size="14.6" text-anchor="start" fill="#1f1f1f" class="tx" font-style="italic" >Muribaculaceae</text>
<rect x="26.20" y="488.68" width="21.10" height="15.77" fill="#fbb672" stroke="#3a3a3a" stroke-width="0.9"/>
<rect x="47.30" y="488.68" width="21.10" height="15.77" fill="#2a67b1" stroke="#3a3a3a" stroke-width="0.9"/>
<rect x="68.40" y="488.68" width="21.10" height="15.77" fill="#fbd08c" stroke="#3a3a3a" stroke-width="0.9"/>
<text x="94.50" y="501.56" font-size="14.6" text-anchor="start" fill="#1f1f1f" class="tx" font-style="italic" >Bacteroides</text>
<path d="M26.22,275.92H25.28 M26.22,291.84H25.28 M25.28,275.92V291.84 M25.28,283.78H17.23 M26.22,370.86H25.28 M26.22,386.59H25.28 M25.28,370.86V386.59 M25.28,378.73H24.34 M26.22,354.94H24.34 M24.34,354.94V378.73 M24.34,366.74H22.85 M26.22,339.21H22.85 M22.85,339.21V366.74 M22.85,352.88H20.97 M26.22,307.75H24.34 M26.22,323.67H24.34 M24.34,307.75V323.67 M24.34,315.62H20.97 M20.97,315.62V352.88 M20.97,334.16H17.23 M17.23,283.78V334.16 M17.23,309.06H7.87 M26.22,418.24H25.28 M26.22,433.78H25.28 M25.28,418.24V433.78 M25.28,425.92H22.47 M26.22,402.32H22.47 M22.47,402.32V425.92 M22.47,414.12H15.36 M26.22,480.97H24.34 M26.22,496.52H24.34 M24.34,480.97V496.52 M24.34,488.65H22.85 M26.22,465.24H22.85 M22.85,465.24V488.65 M22.85,476.85H20.22 M26.22,449.51H20.22 M20.22,449.51V476.85 M20.22,463.18H15.36 M15.36,414.12V463.18 M15.36,438.65H7.87 M7.87,309.06V438.65" stroke="#555" fill="none" stroke-width="0.9"/>
<defs><linearGradient id="cb" x1="0" y1="0" x2="0" y2="1"><stop offset="0" stop-color="#d73027"/><stop offset="0.25" stop-color="#fdae61"/><stop offset="0.5" stop-color="#f7f7f7"/><stop offset="0.75" stop-color="#5b8fc6"/><stop offset="1" stop-color="#2166ac"/></linearGradient></defs>
<rect x="211.60" y="415.30" width="6.20" height="88.20" fill="url(#cb)"/>
<text x="219.50" y="425.00" font-size="14.3" text-anchor="start" fill="#1f1f1f" class="tx" >1</text>
<text x="219.50" y="444.00" font-size="14.3" text-anchor="start" fill="#1f1f1f" class="tx" >0.5</text>
<text x="219.50" y="462.50" font-size="14.3" text-anchor="start" fill="#1f1f1f" class="tx" >0</text>
<text x="219.50" y="481.00" font-size="14.3" text-anchor="start" fill="#1f1f1f" class="tx" >-0.5</text>
<text x="219.50" y="500.60" font-size="14.3" text-anchor="start" fill="#1f1f1f" class="tx" >-1</text>
<text x="42.75" y="512.00" font-size="14.3" text-anchor="end" fill="#1f1f1f" class="tx"  transform="rotate(-45 42.75 512.00)">Saline</text>
<text x="63.85" y="512.00" font-size="14.3" text-anchor="end" fill="#1f1f1f" class="tx"  transform="rotate(-45 63.85 512.00)">PTZ</text>
<text x="84.95" y="512.00" font-size="14.3" text-anchor="end" fill="#1f1f1f" class="tx"  transform="rotate(-45 84.95 512.00)">BF839+PTZ</text>
<text x="355.80" y="278.00" font-size="19.5" text-anchor="start" fill="#000" font-weight="bold" >F</text>
<text x="456.00" y="289.00" font-size="16.5" text-anchor="middle" fill="#1f1f1f" class="tx" font-style="italic" >Bacteroides</text>
<line x1="414.20" y1="307.40" x2="414.20" y2="437.50" stroke="#555555" stroke-width="1.3"/>
<line x1="403.40" y1="437.50" x2="414.20" y2="437.50" stroke="#555555" stroke-width="1.3"/>
<text x="399.80" y="442.72" font-size="14.5" text-anchor="end" fill="#1f1f1f" class="tx" >0.00</text>
<line x1="403.40" y1="394.13" x2="414.20" y2="394.13" stroke="#555555" stroke-width="1.3"/>
<text x="399.80" y="399.35" font-size="14.5" text-anchor="end" fill="#1f1f1f" class="tx" >0.05</text>
<line x1="403.40" y1="350.77" x2="414.20" y2="350.77" stroke="#555555" stroke-width="1.3"/>
<text x="399.80" y="355.99" font-size="14.5" text-anchor="end" fill="#1f1f1f" class="tx" >0.10</text>
<line x1="403.40" y1="307.40" x2="414.20" y2="307.40" stroke="#555555" stroke-width="1.3"/>
<text x="399.80" y="312.62" font-size="14.5" text-anchor="end" fill="#1f1f1f" class="tx" >0.15</text>
<line x1="403.40" y1="437.50" x2="519.40" y2="437.50" stroke="#555555" stroke-width="1.3"/>
<line x1="434.30" y1="437.50" x2="434.30" y2="448.50" stroke="#555555" stroke-width="1.3"/>
<line x1="465.60" y1="437.50" x2="465.60" y2="448.50" stroke="#555555" stroke-width="1.3"/>
<line x1="497.30" y1="437.50" x2="497.30" y2="448.50" stroke="#555555" stroke-width="1.3"/>
<circle cx="434.30" cy="326.71" r="4.20" fill="#000"/>
<circle cx="429.73" cy="383.71" r="4.20" fill="#000"/>
<circle cx="442.04" cy="390.75" r="4.20" fill="#000"/>
<circle cx="435.00" cy="401.30" r="4.20" fill="#000"/>
<circle cx="427.97" cy="419.95" r="4.20" fill="#000"/>
<circle cx="441.34" cy="418.19" r="4.20" fill="#000"/>
<circle cx="458.60" cy="426.22" r="4.20" fill="#a6a6a6"/>
<circle cx="462.60" cy="423.62" r="4.20" fill="#a6a6a6"/>
<circle cx="469.60" cy="424.49" r="4.20" fill="#a6a6a6"/>
<circle cx="473.60" cy="427.09" r="4.20" fill="#a6a6a6"/>
<circle cx="456.60" cy="432.30" r="4.20" fill="#a6a6a6"/>
<circle cx="461.60" cy="434.03" r="4.20" fill="#a6a6a6"/>
<circle cx="468.60" cy="433.16" r="4.20" fill="#a6a6a6"/>
<circle cx="474.60" cy="432.30" r="4.20" fill="#a6a6a6"/>
<circle cx="465.60" cy="429.69" r="4.20" fill="#a6a6a6"/>
<circle cx="459.60" cy="435.77" r="4.20" fill="#a6a6a6"/>
<circle cx="471.60" cy="435.77" r="4.20" fill="#a6a6a6"/>
<line x1="455.60" y1="430.15" x2="475.60" y2="430.15" stroke="#222" stroke-width="1.3"/>
<line x1="465.60" y1="429.45" x2="465.60" y2="430.86" stroke="#222" stroke-width="1.3"/>
<line x1="461.60" y1="429.45" x2="469.60" y2="429.45" stroke="#222" stroke-width="1.3"/>
<line x1="461.60" y1="430.86" x2="469.60" y2="430.86" stroke="#222" stroke-width="1.3"/>
<circle cx="497.28" cy="330.23" r="4.20" fill="#f00000"/>
<circle cx="494.82" cy="337.26" r="4.20" fill="#f00000"/>
<circle cx="499.04" cy="337.26" r="4.20" fill="#f00000"/>
<circle cx="497.28" cy="363.65" r="4.20" fill="#f00000"/>
<circle cx="497.28" cy="394.97" r="4.20" fill="#f00000"/>
<circle cx="491.30" cy="397.08" r="4.20" fill="#f00000"/>
<circle cx="503.62" cy="404.12" r="4.20" fill="#f00000"/>
<circle cx="497.28" cy="410.10" r="4.20" fill="#f00000"/>
<circle cx="489.54" cy="417.14" r="4.20" fill="#f00000"/>
<circle cx="503.62" cy="417.14" r="4.20" fill="#f00000"/>
<circle cx="491.30" cy="424.17" r="4.20" fill="#f00000"/>
<circle cx="502.56" cy="424.17" r="4.20" fill="#f00000"/>
<circle cx="497.28" cy="424.17" r="4.20" fill="#f00000"/>
<line x1="486.30" y1="393.21" x2="508.30" y2="393.21" stroke="#222" stroke-width="1.3"/>
<line x1="497.30" y1="384.41" x2="497.30" y2="402.01" stroke="#222" stroke-width="1.3"/>
<line x1="492.30" y1="384.41" x2="502.30" y2="384.41" stroke="#222" stroke-width="1.3"/>
<line x1="492.30" y1="402.01" x2="502.30" y2="402.01" stroke="#222" stroke-width="1.3"/>
<text x="367.50" y="371.40" font-size="14.9" text-anchor="middle" fill="#1f1f1f" class="tx"  transform="rotate(-90 367.50 371.40)">Relative abundance</text>
<text x="441.80" y="459.30" font-size="14.3" text-anchor="end" fill="#1f1f1f" class="tx"  transform="rotate(-45 441.80 459.30)">Saline</text>
<text x="473.10" y="459.30" font-size="14.3" text-anchor="end" fill="#1f1f1f" class="tx"  transform="rotate(-45 473.10 459.30)">PTZ</text>
<text x="504.80" y="459.30" font-size="14.3" text-anchor="end" fill="#1f1f1f" class="tx"  transform="rotate(-45 504.80 459.30)">BF839+PTZ</text>
<path d="M465.60,319.10 V311.40 H497.30 V319.10" stroke="#555555" fill="none" stroke-width="1.1"/>
<text x="481.45" y="313.70" font-size="14" text-anchor="middle" fill="#1f1f1f" class="tx" >**</text>
<text x="554.00" y="278.00" font-size="19.5" text-anchor="start" fill="#000" font-weight="bold" >G</text>
<text x="661.00" y="289.00" font-size="16.5" text-anchor="middle" fill="#1f1f1f" class="tx" font-style="italic" >Lactobacillus</text>
<line x1="619.20" y1="307.40" x2="619.20" y2="437.50" stroke="#555555" stroke-width="1.3"/>
<line x1="608.10" y1="437.50" x2="619.20" y2="437.50" stroke="#555555" stroke-width="1.3"/>
<text x="601.10" y="442.72" font-size="14.5" text-anchor="end" fill="#1f1f1f" class="tx" >0.00</text>
<line x1="608.10" y1="394.13" x2="619.20" y2="394.13" stroke="#555555" stroke-width="1.3"/>
<text x="601.10" y="399.35" font-size="14.5" text-anchor="end" fill="#1f1f1f" class="tx" >0.05</text>
<line x1="608.10" y1="350.77" x2="619.20" y2="350.77" stroke="#555555" stroke-width="1.3"/>
<text x="601.10" y="355.99" font-size="14.5" text-anchor="end" fill="#1f1f1f" class="tx" >0.10</text>
<line x1="608.10" y1="307.40" x2="619.20" y2="307.40" stroke="#555555" stroke-width="1.3"/>
<text x="601.10" y="312.62" font-size="14.5" text-anchor="end" fill="#1f1f1f" class="tx" >0.15</text>
<line x1="608.10" y1="437.50" x2="724.00" y2="437.50" stroke="#555555" stroke-width="1.3"/>
<line x1="639.00" y1="437.50" x2="639.00" y2="448.50" stroke="#555555" stroke-width="1.3"/>
<line x1="670.00" y1="437.50" x2="670.00" y2="448.50" stroke="#555555" stroke-width="1.3"/>
<line x1="701.40" y1="437.50" x2="701.40" y2="448.50" stroke="#555555" stroke-width="1.3"/>
<circle cx="633.81" cy="428.75" r="4.20" fill="#000"/>
<circle cx="639.79" cy="425.23" r="4.20" fill="#000"/>
<circle cx="646.12" cy="423.47" r="4.20" fill="#000"/>
<circle cx="645.42" cy="432.27" r="4.20" fill="#000"/>
<circle cx="640.84" cy="429.45" r="4.20" fill="#000"/>
<circle cx="670.75" cy="412.91" r="4.20" fill="#a6a6a6"/>
<circle cx="665.48" cy="427.69" r="4.20" fill="#a6a6a6"/>
<circle cx="674.27" cy="427.69" r="4.20" fill="#a6a6a6"/>
<circle cx="667.23" cy="432.97" r="4.20" fill="#a6a6a6"/>
<circle cx="673.57" cy="433.67" r="4.20" fill="#a6a6a6"/>
<circle cx="670.05" cy="430.15" r="4.20" fill="#a6a6a6"/>
<circle cx="663.72" cy="431.21" r="4.20" fill="#a6a6a6"/>
<circle cx="677.09" cy="431.21" r="4.20" fill="#a6a6a6"/>
<line x1="660.00" y1="428.75" x2="680.00" y2="428.75" stroke="#222" stroke-width="1.3"/>
<line x1="670.00" y1="426.99" x2="670.00" y2="430.51" stroke="#222" stroke-width="1.3"/>
<line x1="666.00" y1="426.99" x2="674.00" y2="426.99" stroke="#222" stroke-width="1.3"/>
<line x1="666.00" y1="430.51" x2="674.00" y2="430.51" stroke="#222" stroke-width="1.3"/>
<circle cx="701.37" cy="335.50" r="4.20" fill="#f00000"/>
<circle cx="701.37" cy="370.69" r="4.20" fill="#f00000"/>
<circle cx="701.37" cy="394.26" r="4.20" fill="#f00000"/>
<circle cx="696.09" cy="402.01" r="4.20" fill="#f00000"/>
<circle cx="705.94" cy="404.82" r="4.20" fill="#f00000"/>
<circle cx="700.66" cy="410.10" r="4.20" fill="#f00000"/>
<circle cx="695.38" cy="415.38" r="4.20" fill="#f00000"/>
<circle cx="705.94" cy="414.67" r="4.20" fill="#f00000"/>
<circle cx="698.90" cy="422.41" r="4.20" fill="#f00000"/>
<circle cx="705.94" cy="425.93" r="4.20" fill="#f00000"/>
<circle cx="695.38" cy="429.45" r="4.20" fill="#f00000"/>
<circle cx="707.70" cy="431.21" r="4.20" fill="#f00000"/>
<circle cx="701.37" cy="425.93" r="4.20" fill="#f00000"/>
<line x1="690.40" y1="408.34" x2="712.40" y2="408.34" stroke="#222" stroke-width="1.3"/>
<line x1="701.40" y1="401.30" x2="701.40" y2="415.38" stroke="#222" stroke-width="1.3"/>
<line x1="696.40" y1="401.30" x2="706.40" y2="401.30" stroke="#222" stroke-width="1.3"/>
<line x1="696.40" y1="415.38" x2="706.40" y2="415.38" stroke="#222" stroke-width="1.3"/>
<text x="570.00" y="380.00" font-size="14.9" text-anchor="middle" fill="#1f1f1f" class="tx"  transform="rotate(-90 570.00 380.00)">Relative abundance</text>
<text x="646.50" y="459.30" font-size="14.3" text-anchor="end" fill="#1f1f1f" class="tx"  transform="rotate(-45 646.50 459.30)">Saline</text>
<text x="677.50" y="459.30" font-size="14.3" text-anchor="end" fill="#1f1f1f" class="tx"  transform="rotate(-45 677.50 459.30)">PTZ</text>
<text x="708.90" y="459.30" font-size="14.3" text-anchor="end" fill="#1f1f1f" class="tx"  transform="rotate(-45 708.90 459.30)">BF839+PTZ</text>
<path d="M670.00,314.70 V306.10 H701.40 V314.70" stroke="#555555" fill="none" stroke-width="1.1"/>
<text x="685.70" y="308.00" font-size="14" text-anchor="middle" fill="#1f1f1f" class="tx" >**</text>
<text x="756.00" y="278.00" font-size="19.5" text-anchor="start" fill="#000" font-weight="bold" >H</text>
<line x1="801.40" y1="308.30" x2="801.40" y2="437.70" stroke="#555555" stroke-width="1.3"/>
<line x1="790.80" y1="437.70" x2="801.40" y2="437.70" stroke="#555555" stroke-width="1.3"/>
<text x="787.00" y="442.92" font-size="14.5" text-anchor="end" fill="#1f1f1f" class="tx" >0</text>
<line x1="790.80" y1="405.35" x2="801.40" y2="405.35" stroke="#555555" stroke-width="1.3"/>
<text x="787.00" y="410.57" font-size="14.5" text-anchor="end" fill="#1f1f1f" class="tx" >2</text>
<line x1="790.80" y1="373.00" x2="801.40" y2="373.00" stroke="#555555" stroke-width="1.3"/>
<text x="787.00" y="378.22" font-size="14.5" text-anchor="end" fill="#1f1f1f" class="tx" >4</text>
<line x1="790.80" y1="340.65" x2="801.40" y2="340.65" stroke="#555555" stroke-width="1.3"/>
<text x="787.00" y="345.87" font-size="14.5" text-anchor="end" fill="#1f1f1f" class="tx" >6</text>
<line x1="790.80" y1="308.30" x2="801.40" y2="308.30" stroke="#555555" stroke-width="1.3"/>
<text x="787.00" y="313.52" font-size="14.5" text-anchor="end" fill="#1f1f1f" class="tx" >8</text>
<line x1="790.80" y1="437.70" x2="905.70" y2="437.70" stroke="#555555" stroke-width="1.3"/>
<line x1="822.30" y1="437.70" x2="822.30" y2="446.70" stroke="#555555" stroke-width="1.3"/>
<line x1="853.30" y1="437.70" x2="853.30" y2="446.70" stroke="#555555" stroke-width="1.3"/>
<line x1="884.00" y1="437.70" x2="884.00" y2="446.70" stroke="#555555" stroke-width="1.3"/>
<circle cx="815.00" cy="329.00" r="4.00" fill="#000"/>
<circle cx="828.33" cy="321.67" r="4.00" fill="#000"/>
<circle cx="815.00" cy="338.33" r="4.00" fill="#000"/>
<circle cx="828.33" cy="337.33" r="4.00" fill="#000"/>
<circle cx="816.67" cy="348.33" r="4.00" fill="#000"/>
<circle cx="829.33" cy="348.33" r="4.00" fill="#000"/>
<line x1="816.30" y1="337.33" x2="828.30" y2="337.33" stroke="#fff" stroke-width="1.1"/>
<line x1="822.30" y1="332.67" x2="822.30" y2="342.00" stroke="#fff" stroke-width="1.1"/>
<line x1="818.30" y1="332.67" x2="826.30" y2="332.67" stroke="#fff" stroke-width="1.1"/>
<line x1="818.30" y1="342.00" x2="826.30" y2="342.00" stroke="#fff" stroke-width="1.1"/>
<circle cx="856.67" cy="330.00" r="4.00" fill="#a6a6a6"/>
<circle cx="848.33" cy="333.33" r="4.00" fill="#a6a6a6"/>
<circle cx="860.00" cy="336.00" r="4.00" fill="#a6a6a6"/>
<circle cx="845.00" cy="341.67" r="4.00" fill="#a6a6a6"/>
<circle cx="853.33" cy="340.00" r="4.00" fill="#a6a6a6"/>
<circle cx="861.67" cy="345.00" r="4.00" fill="#a6a6a6"/>
<circle cx="846.67" cy="350.00" r="4.00" fill="#a6a6a6"/>
<circle cx="856.67" cy="350.00" r="4.00" fill="#a6a6a6"/>
<circle cx="850.67" cy="355.00" r="4.00" fill="#a6a6a6"/>
<circle cx="855.00" cy="345.00" r="4.00" fill="#a6a6a6"/>
<circle cx="843.33" cy="346.67" r="4.00" fill="#a6a6a6"/>
<line x1="843.30" y1="340.67" x2="863.30" y2="340.67" stroke="#222" stroke-width="1.3"/>
<line x1="853.30" y1="339.33" x2="853.30" y2="342.33" stroke="#222" stroke-width="1.3"/>
<line x1="849.30" y1="339.33" x2="857.30" y2="339.33" stroke="#222" stroke-width="1.3"/>
<line x1="849.30" y1="342.33" x2="857.30" y2="342.33" stroke="#222" stroke-width="1.3"/>
<circle cx="886.67" cy="324.00" r="4.00" fill="#f00000"/>
<circle cx="878.33" cy="328.33" r="4.00" fill="#f00000"/>
<circle cx="890.00" cy="330.00" r="4.00" fill="#f00000"/>
<circle cx="875.00" cy="334.00" r="4.00" fill="#f00000"/>
<circle cx="885.00" cy="335.00" r="4.00" fill="#f00000"/>
<circle cx="891.67" cy="337.33" r="4.00" fill="#f00000"/>
<circle cx="876.67" cy="341.67" r="4.00" fill="#f00000"/>
<circle cx="886.67" cy="343.33" r="4.00" fill="#f00000"/>
<circle cx="880.00" cy="340.00" r="4.00" fill="#f00000"/>
<circle cx="891.67" cy="343.33" r="4.00" fill="#f00000"/>
<circle cx="883.33" cy="351.00" r="4.00" fill="#f00000"/>
<circle cx="873.33" cy="340.00" r="4.00" fill="#f00000"/>
<line x1="873.00" y1="335.00" x2="895.00" y2="335.00" stroke="#222" stroke-width="1.3"/>
<line x1="884.00" y1="333.00" x2="884.00" y2="337.00" stroke="#222" stroke-width="1.3"/>
<line x1="879.00" y1="333.00" x2="889.00" y2="333.00" stroke="#222" stroke-width="1.3"/>
<line x1="879.00" y1="337.00" x2="889.00" y2="337.00" stroke="#222" stroke-width="1.3"/>
<text x="773.50" y="376.00" font-size="14.3" text-anchor="middle" fill="#1f1f1f" class="tx"  transform="rotate(-90 773.50 376.00)">Shannon index</text>
<text x="829.80" y="457.20" font-size="14.3" text-anchor="end" fill="#1f1f1f" class="tx"  transform="rotate(-45 829.80 457.20)">Saline</text>
<text x="860.80" y="457.20" font-size="14.3" text-anchor="end" fill="#1f1f1f" class="tx"  transform="rotate(-45 860.80 457.20)">PTZ</text>
<text x="891.50" y="457.20" font-size="14.3" text-anchor="end" fill="#1f1f1f" class="tx"  transform="rotate(-45 891.50 457.20)">BF839+PTZ</text>
<path d="M853.30,317.80 V310.60 H884.00 V317.80" stroke="#555555" fill="none" stroke-width="1.1"/>
<text x="868.65" y="312.30" font-size="14" text-anchor="middle" fill="#1f1f1f" class="tx" >**</text>
<text x="933.30" y="278.00" font-size="19.5" text-anchor="start" fill="#000" font-weight="bold" >I</text>
<text x="1031.70" y="289.00" font-size="16.5" text-anchor="middle" fill="#1f1f1f" class="tx" font-style="italic" >Bacteroides</text>
<line x1="999.00" y1="308.75" x2="999.00" y2="438.90" stroke="#555555" stroke-width="1.3"/>
<line x1="988.30" y1="438.90" x2="999.00" y2="438.90" stroke="#555555" stroke-width="1.3"/>
<text x="985.80" y="444.12" font-size="14.5" text-anchor="end" fill="#1f1f1f" class="tx" >0.00</text>
<line x1="988.30" y1="395.52" x2="999.00" y2="395.52" stroke="#555555" stroke-width="1.3"/>
<text x="985.80" y="400.74" font-size="14.5" text-anchor="end" fill="#1f1f1f" class="tx" >0.05</text>
<line x1="988.30" y1="352.13" x2="999.00" y2="352.13" stroke="#555555" stroke-width="1.3"/>
<text x="985.80" y="357.35" font-size="14.5" text-anchor="end" fill="#1f1f1f" class="tx" >0.10</text>
<line x1="988.30" y1="308.75" x2="999.00" y2="308.75" stroke="#555555" stroke-width="1.3"/>
<text x="985.80" y="313.97" font-size="14.5" text-anchor="end" fill="#1f1f1f" class="tx" >0.15</text>
<line x1="988.30" y1="438.90" x2="1078.00" y2="438.90" stroke="#555555" stroke-width="1.3"/>
<line x1="1021.25" y1="438.90" x2="1021.25" y2="448.90" stroke="#555555" stroke-width="1.3"/>
<line x1="1054.60" y1="438.90" x2="1054.60" y2="448.90" stroke="#555555" stroke-width="1.3"/>
<circle cx="1014.03" cy="412.22" r="4.20" fill="#2b8fe0"/>
<circle cx="1023.06" cy="410.14" r="4.20" fill="#2b8fe0"/>
<circle cx="1014.72" cy="424.03" r="4.20" fill="#2b8fe0"/>
<circle cx="1023.75" cy="424.03" r="4.20" fill="#2b8fe0"/>
<circle cx="1028.61" cy="423.33" r="4.20" fill="#2b8fe0"/>
<circle cx="1020.28" cy="418.47" r="4.20" fill="#2b8fe0"/>
<circle cx="1018.89" cy="421.94" r="4.20" fill="#2b8fe0"/>
<line x1="1010.25" y1="418.47" x2="1032.25" y2="418.47" stroke="#222" stroke-width="1.3"/>
<line x1="1021.25" y1="415.69" x2="1021.25" y2="421.25" stroke="#222" stroke-width="1.3"/>
<line x1="1016.25" y1="415.69" x2="1026.25" y2="415.69" stroke="#222" stroke-width="1.3"/>
<line x1="1016.25" y1="421.25" x2="1026.25" y2="421.25" stroke="#222" stroke-width="1.3"/>
<circle cx="1054.58" cy="331.39" r="4.20" fill="#f97f10"/>
<circle cx="1050.83" cy="339.72" r="4.20" fill="#f97f10"/>
<circle cx="1057.50" cy="339.72" r="4.20" fill="#f97f10"/>
<circle cx="1054.58" cy="365.00" r="4.20" fill="#f97f10"/>
<circle cx="1048.06" cy="397.64" r="4.20" fill="#f97f10"/>
<circle cx="1054.58" cy="396.94" r="4.20" fill="#f97f10"/>
<circle cx="1061.25" cy="403.89" r="4.20" fill="#f97f10"/>
<circle cx="1054.58" cy="406.67" r="4.20" fill="#f97f10"/>
<circle cx="1054.58" cy="420.28" r="4.20" fill="#f97f10"/>
<line x1="1043.60" y1="378.19" x2="1065.60" y2="378.19" stroke="#222" stroke-width="1.3"/>
<line x1="1054.60" y1="366.39" x2="1054.60" y2="389.31" stroke="#222" stroke-width="1.3"/>
<line x1="1048.60" y1="366.39" x2="1060.60" y2="366.39" stroke="#222" stroke-width="1.3"/>
<line x1="1048.60" y1="389.31" x2="1060.60" y2="389.31" stroke="#222" stroke-width="1.3"/>
<text x="952.00" y="371.70" font-size="14.8" text-anchor="middle" fill="#1f1f1f" class="tx"  transform="rotate(-90 952.00 371.70)">Relative abundance</text>
<text x="1028.75" y="459.50" font-size="14.3" text-anchor="end" fill="#1f1f1f" class="tx"  transform="rotate(-45 1028.75 459.50)">Ineffective</text>
<text x="1062.10" y="459.50" font-size="14.3" text-anchor="end" fill="#1f1f1f" class="tx"  transform="rotate(-45 1062.10 459.50)">Effective</text>
<path d="M1021.25,326.00 V317.80 H1054.60 V326.00" stroke="#555555" fill="none" stroke-width="1.1"/>
<text x="1037.92" y="317.00" font-size="14" text-anchor="middle" fill="#1f1f1f" class="tx" >**</text>
<text x="3.50" y="594.00" font-size="19.5" text-anchor="start" fill="#000" font-weight="bold" >J</text>
<text x="98.50" y="597.50" font-size="16.5" text-anchor="middle" fill="#1f1f1f" class="tx" font-style="italic" >Lactobacillus</text>
<line x1="70.40" y1="609.80" x2="70.40" y2="740.00" stroke="#555555" stroke-width="1.3"/>
<line x1="60.40" y1="740.00" x2="70.40" y2="740.00" stroke="#555555" stroke-width="1.3"/>
<text x="57.40" y="745.76" font-size="16" text-anchor="end" fill="#1f1f1f" class="tx" >0.00</text>
<line x1="60.40" y1="696.60" x2="70.40" y2="696.60" stroke="#555555" stroke-width="1.3"/>
<text x="57.40" y="702.36" font-size="16" text-anchor="end" fill="#1f1f1f" class="tx" >0.05</text>
<line x1="60.40" y1="653.20" x2="70.40" y2="653.20" stroke="#555555" stroke-width="1.3"/>
<text x="57.40" y="658.96" font-size="16" text-anchor="end" fill="#1f1f1f" class="tx" >0.10</text>
<line x1="60.40" y1="609.80" x2="70.40" y2="609.80" stroke="#555555" stroke-width="1.3"/>
<text x="57.40" y="615.56" font-size="16" text-anchor="end" fill="#1f1f1f" class="tx" >0.15</text>
<line x1="56.00" y1="740.00" x2="149.50" y2="740.00" stroke="#555555" stroke-width="1.3"/>
<line x1="90.80" y1="740.00" x2="90.80" y2="750.00" stroke="#555555" stroke-width="1.3"/>
<line x1="124.90" y1="740.00" x2="124.90" y2="750.00" stroke="#555555" stroke-width="1.3"/>
<circle cx="91.48" cy="698.43" r="4.30" fill="#2b8fe0"/>
<circle cx="91.48" cy="719.54" r="4.30" fill="#2b8fe0"/>
<circle cx="84.45" cy="730.10" r="4.30" fill="#2b8fe0"/>
<circle cx="99.23" cy="730.10" r="4.30" fill="#2b8fe0"/>
<circle cx="92.19" cy="727.64" r="4.30" fill="#2b8fe0"/>
<circle cx="87.97" cy="724.82" r="4.30" fill="#2b8fe0"/>
<line x1="79.80" y1="722.01" x2="101.80" y2="722.01" stroke="#222" stroke-width="1.3"/>
<line x1="90.80" y1="717.08" x2="90.80" y2="727.28" stroke="#222" stroke-width="1.3"/>
<line x1="85.80" y1="717.08" x2="95.80" y2="717.08" stroke="#222" stroke-width="1.3"/>
<line x1="85.80" y1="727.28" x2="95.80" y2="727.28" stroke="#222" stroke-width="1.3"/>
<circle cx="124.91" cy="637.91" r="4.30" fill="#f97f10"/>
<circle cx="124.91" cy="673.10" r="4.30" fill="#f97f10"/>
<circle cx="124.91" cy="703.71" r="4.30" fill="#f97f10"/>
<circle cx="119.63" cy="710.75" r="4.30" fill="#f97f10"/>
<circle cx="130.89" cy="716.02" r="4.30" fill="#f97f10"/>
<circle cx="117.87" cy="723.06" r="4.30" fill="#f97f10"/>
<circle cx="124.91" cy="717.78" r="4.30" fill="#f97f10"/>
<circle cx="133.00" cy="716.73" r="4.30" fill="#f97f10"/>
<circle cx="126.67" cy="710.75" r="4.30" fill="#f97f10"/>
<line x1="113.90" y1="699.49" x2="135.90" y2="699.49" stroke="#222" stroke-width="1.3"/>
<line x1="124.90" y1="690.34" x2="124.90" y2="707.93" stroke="#222" stroke-width="1.3"/>
<line x1="118.90" y1="690.34" x2="130.90" y2="690.34" stroke="#222" stroke-width="1.3"/>
<line x1="118.90" y1="707.93" x2="130.90" y2="707.93" stroke="#222" stroke-width="1.3"/>
<text x="21.00" y="675.60" font-size="14.8" text-anchor="middle" fill="#1f1f1f" class="tx"  transform="rotate(-90 21.00 675.60)">Relative abundance</text>
<text x="98.30" y="760.50" font-size="14.3" text-anchor="end" fill="#1f1f1f" class="tx"  transform="rotate(-45 98.30 760.50)">Ineffective</text>
<text x="132.40" y="760.50" font-size="14.3" text-anchor="end" fill="#1f1f1f" class="tx"  transform="rotate(-45 132.40 760.50)">Effective</text>
<path d="M90.80,630.30 V623.00 H124.90 V630.30" stroke="#555555" fill="none" stroke-width="1.1"/>
<text x="107.85" y="622.20" font-size="14" text-anchor="middle" fill="#1f1f1f" class="tx" >**</text>
<text x="171.70" y="594.00" font-size="19.5" text-anchor="start" fill="#000" font-weight="bold" >K</text>
<text x="254.00" y="597.00" font-size="14" text-anchor="start" fill="#1f1f1f" class="tx" >n=15</text>
<text x="254.00" y="618.00" font-size="14" text-anchor="start" fill="#1f1f1f" class="tx" >Spearman r= 0.8272</text>
<text x="254.00" y="639.00" font-size="14" text-anchor="start" fill="#1f1f1f" class="tx" ><tspan font-style="italic">p</tspan>&lt;0.001</text>
<line x1="246.60" y1="624.50" x2="246.60" y2="750.20" stroke="#555555" stroke-width="1.3"/>
<line x1="235.60" y1="750.20" x2="246.60" y2="750.20" stroke="#555555" stroke-width="1.3"/>
<text x="234.60" y="755.35" font-size="14.3" text-anchor="end" fill="#1f1f1f" class="tx" >0.00</text>
<line x1="235.60" y1="708.30" x2="246.60" y2="708.30" stroke="#555555" stroke-width="1.3"/>
<text x="234.60" y="713.45" font-size="14.3" text-anchor="end" fill="#1f1f1f" class="tx" >0.05</text>
<line x1="235.60" y1="666.40" x2="246.60" y2="666.40" stroke="#555555" stroke-width="1.3"/>
<text x="234.60" y="671.55" font-size="14.3" text-anchor="end" fill="#1f1f1f" class="tx" >0.10</text>
<line x1="235.60" y1="624.50" x2="246.60" y2="624.50" stroke="#555555" stroke-width="1.3"/>
<text x="234.60" y="629.65" font-size="14.3" text-anchor="end" fill="#1f1f1f" class="tx" >0.15</text>
<line x1="235.60" y1="750.20" x2="372.00" y2="750.20" stroke="#555555" stroke-width="1.3"/>
<line x1="246.60" y1="750.20" x2="246.60" y2="761.20" stroke="#555555" stroke-width="1.3"/>
<text x="246.60" y="778.50" font-size="14.3" text-anchor="middle" fill="#1f1f1f" class="tx" >0.00</text>
<line x1="288.00" y1="750.20" x2="288.00" y2="761.20" stroke="#555555" stroke-width="1.3"/>
<text x="288.00" y="778.50" font-size="14.3" text-anchor="middle" fill="#1f1f1f" class="tx" >0.05</text>
<line x1="330.20" y1="750.20" x2="330.20" y2="761.20" stroke="#555555" stroke-width="1.3"/>
<text x="330.20" y="778.50" font-size="14.3" text-anchor="middle" fill="#1f1f1f" class="tx" >0.10</text>
<line x1="372.00" y1="750.20" x2="372.00" y2="761.20" stroke="#555555" stroke-width="1.3"/>
<text x="372.00" y="778.50" font-size="14.3" text-anchor="middle" fill="#1f1f1f" class="tx" >0.15</text>
<text x="185.50" y="684.40" font-size="14.3" text-anchor="middle" fill="#1f1f1f" class="tx"  transform="rotate(-90 185.50 684.40)">Relative abundance</text>
<text x="204.00" y="684.40" font-size="14.3" text-anchor="middle" fill="#1f1f1f" class="tx"  transform="rotate(-90 204.00 684.40)">of <tspan font-style="italic">Bacteroides</tspan></text>
<text x="309.60" y="791.50" font-size="14.3" text-anchor="middle" fill="#1f1f1f" class="tx" >Relative abundance</text>
<text x="309.60" y="810.00" font-size="14.3" text-anchor="middle" fill="#1f1f1f" class="tx" >of <tspan font-style="italic">Lactobacillus</tspan></text>
<circle cx="279.73" cy="645.65" r="3.40" fill="#0a14c8"/>
<circle cx="309.64" cy="654.45" r="3.40" fill="#0a14c8"/>
<circle cx="344.12" cy="653.74" r="3.40" fill="#0a14c8"/>
<circle cx="287.83" cy="678.37" r="3.40" fill="#0a14c8"/>
<circle cx="265.66" cy="709.69" r="3.40" fill="#0a14c8"/>
<circle cx="277.97" cy="710.04" r="3.40" fill="#0a14c8"/>
<circle cx="259.68" cy="716.02" r="3.40" fill="#0a14c8"/>
<circle cx="267.42" cy="722.01" r="3.40" fill="#0a14c8"/>
<circle cx="270.23" cy="719.54" r="3.40" fill="#0a14c8"/>
<circle cx="255.10" cy="723.76" r="3.40" fill="#0a14c8"/>
<circle cx="252.64" cy="729.39" r="3.40" fill="#0a14c8"/>
<circle cx="262.14" cy="731.86" r="3.40" fill="#0a14c8"/>
<circle cx="256.86" cy="735.38" r="3.40" fill="#0a14c8"/>
<circle cx="255.10" cy="737.14" r="3.40" fill="#0a14c8"/>
<circle cx="259.68" cy="736.08" r="3.40" fill="#0a14c8"/>
<line x1="255.10" y1="726.58" x2="343.07" y2="632.63" stroke="#333" stroke-width="1.1"/>
<text x="402.70" y="594.00" font-size="19.5" text-anchor="start" fill="#000" font-weight="bold" >L</text>
<text x="481.70" y="603.50" font-size="14" text-anchor="start" fill="#1f1f1f" class="tx" >n= 15</text>
<text x="481.70" y="619.50" font-size="14" text-anchor="start" fill="#1f1f1f" class="tx" >Spearman r= -0.6939</text>
<text x="481.70" y="636.00" font-size="14" text-anchor="start" fill="#1f1f1f" class="tx" ><tspan font-style="italic">p</tspan>= 0.0041</text>
<line x1="477.30" y1="624.30" x2="477.30" y2="750.00" stroke="#555555" stroke-width="1.3"/>
<line x1="466.30" y1="750.00" x2="477.30" y2="750.00" stroke="#555555" stroke-width="1.3"/>
<text x="465.30" y="755.15" font-size="14.3" text-anchor="end" fill="#1f1f1f" class="tx" >0.00</text>
<line x1="466.30" y1="708.10" x2="477.30" y2="708.10" stroke="#555555" stroke-width="1.3"/>
<text x="465.30" y="713.25" font-size="14.3" text-anchor="end" fill="#1f1f1f" class="tx" >0.05</text>
<line x1="466.30" y1="666.20" x2="477.30" y2="666.20" stroke="#555555" stroke-width="1.3"/>
<text x="465.30" y="671.35" font-size="14.3" text-anchor="end" fill="#1f1f1f" class="tx" >0.10</text>
<line x1="466.30" y1="624.30" x2="477.30" y2="624.30" stroke="#555555" stroke-width="1.3"/>
<text x="465.30" y="629.45" font-size="14.3" text-anchor="end" fill="#1f1f1f" class="tx" >0.15</text>
<line x1="466.30" y1="750.00" x2="602.70" y2="750.00" stroke="#555555" stroke-width="1.3"/>
<line x1="477.30" y1="750.00" x2="477.30" y2="761.00" stroke="#555555" stroke-width="1.3"/>
<text x="477.30" y="778.00" font-size="14.3" text-anchor="middle" fill="#1f1f1f" class="tx" >0.0</text>
<line x1="502.70" y1="750.00" x2="502.70" y2="761.00" stroke="#555555" stroke-width="1.3"/>
<text x="502.70" y="778.00" font-size="14.3" text-anchor="middle" fill="#1f1f1f" class="tx" >0.5</text>
<line x1="527.30" y1="750.00" x2="527.30" y2="761.00" stroke="#555555" stroke-width="1.3"/>
<text x="527.30" y="778.00" font-size="14.3" text-anchor="middle" fill="#1f1f1f" class="tx" >1.0</text>
<line x1="552.70" y1="750.00" x2="552.70" y2="761.00" stroke="#555555" stroke-width="1.3"/>
<text x="552.70" y="778.00" font-size="14.3" text-anchor="middle" fill="#1f1f1f" class="tx" >1.5</text>
<line x1="577.70" y1="750.00" x2="577.70" y2="761.00" stroke="#555555" stroke-width="1.3"/>
<text x="577.70" y="778.00" font-size="14.3" text-anchor="middle" fill="#1f1f1f" class="tx" >2.0</text>
<line x1="602.70" y1="750.00" x2="602.70" y2="761.00" stroke="#555555" stroke-width="1.3"/>
<text x="602.70" y="778.00" font-size="14.3" text-anchor="middle" fill="#1f1f1f" class="tx" >2.5</text>
<text x="417.00" y="693.00" font-size="14.3" text-anchor="middle" fill="#1f1f1f" class="tx"  transform="rotate(-90 417.00 693.00)">Relative abundance</text>
<text x="433.50" y="693.00" font-size="14.3" text-anchor="middle" fill="#1f1f1f" class="tx"  transform="rotate(-90 433.50 693.00)">of <tspan font-style="italic">Bacteroides</tspan></text>
<text x="541.70" y="802.50" font-size="14.3" text-anchor="middle" fill="#1f1f1f" class="tx" >Mean seizures</text>
<circle cx="510.67" cy="653.67" r="3.40" fill="#0a14c8"/>
<circle cx="519.00" cy="654.33" r="3.40" fill="#0a14c8"/>
<circle cx="527.33" cy="646.33" r="3.40" fill="#0a14c8"/>
<circle cx="523.00" cy="679.00" r="3.40" fill="#0a14c8"/>
<circle cx="510.67" cy="716.00" r="3.40" fill="#0a14c8"/>
<circle cx="519.00" cy="710.67" r="3.40" fill="#0a14c8"/>
<circle cx="527.33" cy="719.00" r="3.40" fill="#0a14c8"/>
<circle cx="535.67" cy="709.33" r="3.40" fill="#0a14c8"/>
<circle cx="556.67" cy="732.00" r="3.40" fill="#0a14c8"/>
<circle cx="569.00" cy="736.33" r="3.40" fill="#0a14c8"/>
<circle cx="585.67" cy="721.67" r="3.40" fill="#0a14c8"/>
<circle cx="585.67" cy="723.33" r="3.40" fill="#0a14c8"/>
<circle cx="590.00" cy="729.33" r="3.40" fill="#0a14c8"/>
<circle cx="585.67" cy="735.00" r="3.40" fill="#0a14c8"/>
<circle cx="594.00" cy="736.67" r="3.40" fill="#0a14c8"/>
<line x1="510.00" y1="680.00" x2="590.00" y2="733.33" stroke="#333" stroke-width="1.1"/>
<text x="639.00" y="594.00" font-size="19.5" text-anchor="start" fill="#000" font-weight="bold" >M</text>
<text x="717.50" y="604.50" font-size="14" text-anchor="start" fill="#1f1f1f" class="tx" >n= 15</text>
<text x="717.50" y="625.00" font-size="14" text-anchor="start" fill="#1f1f1f" class="tx" >Spearman r= -0.8679</text>
<text x="717.50" y="646.00" font-size="14" text-anchor="start" fill="#1f1f1f" class="tx" ><tspan font-style="italic">p</tspan>&lt;0.001</text>
<line x1="708.30" y1="626.00" x2="708.30" y2="751.70" stroke="#555555" stroke-width="1.3"/>
<line x1="697.30" y1="751.70" x2="708.30" y2="751.70" stroke="#555555" stroke-width="1.3"/>
<text x="696.30" y="756.85" font-size="14.3" text-anchor="end" fill="#1f1f1f" class="tx" >0.00</text>
<line x1="697.30" y1="709.80" x2="708.30" y2="709.80" stroke="#555555" stroke-width="1.3"/>
<text x="696.30" y="714.95" font-size="14.3" text-anchor="end" fill="#1f1f1f" class="tx" >0.05</text>
<line x1="697.30" y1="667.90" x2="708.30" y2="667.90" stroke="#555555" stroke-width="1.3"/>
<text x="696.30" y="673.05" font-size="14.3" text-anchor="end" fill="#1f1f1f" class="tx" >0.10</text>
<line x1="697.30" y1="626.00" x2="708.30" y2="626.00" stroke="#555555" stroke-width="1.3"/>
<text x="696.30" y="631.15" font-size="14.3" text-anchor="end" fill="#1f1f1f" class="tx" >0.15</text>
<line x1="697.30" y1="751.70" x2="834.00" y2="751.70" stroke="#555555" stroke-width="1.3"/>
<line x1="708.30" y1="751.70" x2="708.30" y2="762.70" stroke="#555555" stroke-width="1.3"/>
<text x="708.30" y="777.00" font-size="14.3" text-anchor="middle" fill="#1f1f1f" class="tx" >0.0</text>
<line x1="734.00" y1="751.70" x2="734.00" y2="762.70" stroke="#555555" stroke-width="1.3"/>
<text x="734.00" y="777.00" font-size="14.3" text-anchor="middle" fill="#1f1f1f" class="tx" >0.5</text>
<line x1="759.00" y1="751.70" x2="759.00" y2="762.70" stroke="#555555" stroke-width="1.3"/>
<text x="759.00" y="777.00" font-size="14.3" text-anchor="middle" fill="#1f1f1f" class="tx" >1.0</text>
<line x1="784.00" y1="751.70" x2="784.00" y2="762.70" stroke="#555555" stroke-width="1.3"/>
<text x="784.00" y="777.00" font-size="14.3" text-anchor="middle" fill="#1f1f1f" class="tx" >1.5</text>
<line x1="809.30" y1="751.70" x2="809.30" y2="762.70" stroke="#555555" stroke-width="1.3"/>
<text x="809.30" y="777.00" font-size="14.3" text-anchor="middle" fill="#1f1f1f" class="tx" >2.0</text>
<line x1="834.00" y1="751.70" x2="834.00" y2="762.70" stroke="#555555" stroke-width="1.3"/>
<text x="834.00" y="777.00" font-size="14.3" text-anchor="middle" fill="#1f1f1f" class="tx" >2.5</text>
<text x="652.00" y="690.00" font-size="14.3" text-anchor="middle" fill="#1f1f1f" class="tx"  transform="rotate(-90 652.00 690.00)">Relative abundance</text>
<text x="667.00" y="690.00" font-size="14.3" text-anchor="middle" fill="#1f1f1f" class="tx"  transform="rotate(-90 667.00 690.00)">of <tspan font-style="italic">Lactobacillus</tspan></text>
<text x="766.70" y="803.50" font-size="14.3" text-anchor="middle" fill="#1f1f1f" class="tx" >Mean seizures</text>
<circle cx="741.67" cy="653.33" r="3.40" fill="#0a14c8"/>
<circle cx="750.00" cy="687.33" r="3.40" fill="#0a14c8"/>
<circle cx="754.33" cy="710.00" r="3.40" fill="#0a14c8"/>
<circle cx="750.00" cy="720.00" r="3.40" fill="#0a14c8"/>
<circle cx="759.00" cy="717.67" r="3.40" fill="#0a14c8"/>
<circle cx="759.00" cy="728.00" r="3.40" fill="#0a14c8"/>
<circle cx="741.67" cy="730.00" r="3.40" fill="#0a14c8"/>
<circle cx="767.33" cy="732.00" r="3.40" fill="#0a14c8"/>
<circle cx="787.67" cy="735.33" r="3.40" fill="#0a14c8"/>
<circle cx="800.33" cy="739.33" r="3.40" fill="#0a14c8"/>
<circle cx="816.67" cy="730.67" r="3.40" fill="#0a14c8"/>
<circle cx="816.67" cy="741.67" r="3.40" fill="#0a14c8"/>
<circle cx="821.00" cy="745.00" r="3.40" fill="#0a14c8"/>
<circle cx="826.00" cy="741.67" r="3.40" fill="#0a14c8"/>
<circle cx="818.33" cy="743.33" r="3.40" fill="#0a14c8"/>
<line x1="742.67" y1="704.33" x2="816.67" y2="741.67" stroke="#333" stroke-width="1.1"/>
<text x="874.00" y="594.00" font-size="19.5" text-anchor="start" fill="#000" font-weight="bold" >N</text>
<text x="947.30" y="605.50" font-size="14" text-anchor="start" fill="#1f1f1f" class="tx" >n= 6</text>
<text x="947.30" y="626.00" font-size="14" text-anchor="start" fill="#1f1f1f" class="tx" >Spearman r= 0.8286</text>
<text x="947.30" y="646.00" font-size="14" text-anchor="start" fill="#1f1f1f" class="tx" ><tspan font-style="italic">p</tspan>= 0.0297</text>
<line x1="937.30" y1="629.30" x2="937.30" y2="755.00" stroke="#555555" stroke-width="1.3"/>
<line x1="926.30" y1="755.00" x2="937.30" y2="755.00" stroke="#555555" stroke-width="1.3"/>
<text x="925.30" y="760.15" font-size="14.3" text-anchor="end" fill="#1f1f1f" class="tx" >0.00</text>
<line x1="926.30" y1="713.10" x2="937.30" y2="713.10" stroke="#555555" stroke-width="1.3"/>
<text x="925.30" y="718.25" font-size="14.3" text-anchor="end" fill="#1f1f1f" class="tx" >0.05</text>
<line x1="926.30" y1="671.20" x2="937.30" y2="671.20" stroke="#555555" stroke-width="1.3"/>
<text x="925.30" y="676.35" font-size="14.3" text-anchor="end" fill="#1f1f1f" class="tx" >0.10</text>
<line x1="926.30" y1="629.30" x2="937.30" y2="629.30" stroke="#555555" stroke-width="1.3"/>
<text x="925.30" y="634.45" font-size="14.3" text-anchor="end" fill="#1f1f1f" class="tx" >0.15</text>
<line x1="926.30" y1="755.00" x2="1062.70" y2="755.00" stroke="#555555" stroke-width="1.3"/>
<line x1="937.30" y1="755.00" x2="937.30" y2="766.00" stroke="#555555" stroke-width="1.3"/>
<text x="937.30" y="782.50" font-size="14.3" text-anchor="middle" fill="#1f1f1f" class="tx" >30</text>
<line x1="968.30" y1="755.00" x2="968.30" y2="766.00" stroke="#555555" stroke-width="1.3"/>
<text x="968.30" y="782.50" font-size="14.3" text-anchor="middle" fill="#1f1f1f" class="tx" >40</text>
<line x1="1000.00" y1="755.00" x2="1000.00" y2="766.00" stroke="#555555" stroke-width="1.3"/>
<text x="1000.00" y="782.50" font-size="14.3" text-anchor="middle" fill="#1f1f1f" class="tx" >50</text>
<line x1="1031.70" y1="755.00" x2="1031.70" y2="766.00" stroke="#555555" stroke-width="1.3"/>
<text x="1031.70" y="782.50" font-size="14.3" text-anchor="middle" fill="#1f1f1f" class="tx" >60</text>
<line x1="1062.70" y1="755.00" x2="1062.70" y2="766.00" stroke="#555555" stroke-width="1.3"/>
<text x="1062.70" y="782.50" font-size="14.3" text-anchor="middle" fill="#1f1f1f" class="tx" >70</text>
<text x="878.50" y="695.00" font-size="14.3" text-anchor="middle" fill="#1f1f1f" class="tx"  transform="rotate(-90 878.50 695.00)">Relative abundance</text>
<text x="893.50" y="695.00" font-size="14.3" text-anchor="middle" fill="#1f1f1f" class="tx"  transform="rotate(-90 893.50 695.00)">of <tspan font-style="italic">Lactobacillus</tspan></text>
<text x="1005.00" y="803.50" font-size="14.3" text-anchor="middle" fill="#1f1f1f" class="tx" >ChAT<tspan baseline-shift="super" font-size="9">+</tspan> cell number</text>
<circle cx="956.00" cy="721.67" r="3.40" fill="#0a14c8"/>
<circle cx="971.67" cy="733.33" r="3.40" fill="#0a14c8"/>
<circle cx="984.33" cy="723.33" r="3.40" fill="#0a14c8"/>
<circle cx="1006.00" cy="713.33" r="3.40" fill="#0a14c8"/>
<circle cx="1034.33" cy="690.67" r="3.40" fill="#0a14c8"/>
<circle cx="1037.67" cy="657.33" r="3.40" fill="#0a14c8"/>
<line x1="956.00" y1="737.33" x2="1038.33" y2="678.33" stroke="#333" stroke-width="1.1"/>
<text x="3.00" y="840.00" font-size="19.5" text-anchor="start" fill="#000" font-weight="bold" >O</text>
<text x="82.00" y="846.50" font-size="14" text-anchor="start" fill="#1f1f1f" class="tx" >n= 6</text>
<text x="82.00" y="867.00" font-size="14" text-anchor="start" fill="#1f1f1f" class="tx" >Spearman r= 0.7849</text>
<text x="82.00" y="888.00" font-size="14" text-anchor="start" fill="#1f1f1f" class="tx" ><tspan font-style="italic">p</tspan>= 0.018</text>
<line x1="78.75" y1="870.75" x2="78.75" y2="997.00" stroke="#555555" stroke-width="1.3"/>
<line x1="67.75" y1="997.00" x2="78.75" y2="997.00" stroke="#555555" stroke-width="1.3"/>
<text x="66.75" y="1002.15" font-size="14.3" text-anchor="end" fill="#1f1f1f" class="tx" >0.00</text>
<line x1="67.75" y1="954.92" x2="78.75" y2="954.92" stroke="#555555" stroke-width="1.3"/>
<text x="66.75" y="960.06" font-size="14.3" text-anchor="end" fill="#1f1f1f" class="tx" >0.05</text>
<line x1="67.75" y1="912.83" x2="78.75" y2="912.83" stroke="#555555" stroke-width="1.3"/>
<text x="66.75" y="917.98" font-size="14.3" text-anchor="end" fill="#1f1f1f" class="tx" >0.10</text>
<line x1="67.75" y1="870.75" x2="78.75" y2="870.75" stroke="#555555" stroke-width="1.3"/>
<text x="66.75" y="875.90" font-size="14.3" text-anchor="end" fill="#1f1f1f" class="tx" >0.15</text>
<line x1="67.75" y1="997.00" x2="204.50" y2="997.00" stroke="#555555" stroke-width="1.3"/>
<line x1="78.75" y1="997.00" x2="78.75" y2="1008.00" stroke="#555555" stroke-width="1.3"/>
<text x="78.75" y="1024.50" font-size="14.3" text-anchor="middle" fill="#1f1f1f" class="tx" >0</text>
<line x1="110.00" y1="997.00" x2="110.00" y2="1008.00" stroke="#555555" stroke-width="1.3"/>
<text x="110.00" y="1024.50" font-size="14.3" text-anchor="middle" fill="#1f1f1f" class="tx" >10</text>
<line x1="141.25" y1="997.00" x2="141.25" y2="1008.00" stroke="#555555" stroke-width="1.3"/>
<text x="141.25" y="1024.50" font-size="14.3" text-anchor="middle" fill="#1f1f1f" class="tx" >20</text>
<line x1="172.50" y1="997.00" x2="172.50" y2="1008.00" stroke="#555555" stroke-width="1.3"/>
<text x="172.50" y="1024.50" font-size="14.3" text-anchor="middle" fill="#1f1f1f" class="tx" >30</text>
<line x1="204.50" y1="997.00" x2="204.50" y2="1008.00" stroke="#555555" stroke-width="1.3"/>
<text x="204.50" y="1024.50" font-size="14.3" text-anchor="middle" fill="#1f1f1f" class="tx" >40</text>
<text x="23.00" y="935.00" font-size="14.3" text-anchor="middle" fill="#1f1f1f" class="tx"  transform="rotate(-90 23.00 935.00)">Relative abundance</text>
<text x="37.50" y="935.00" font-size="14.3" text-anchor="middle" fill="#1f1f1f" class="tx"  transform="rotate(-90 37.50 935.00)">of <tspan font-style="italic">Lactobacillus</tspan></text>
<text x="140.50" y="1037.50" font-size="14.3" text-anchor="middle" fill="#1f1f1f" class="tx" >NG firing rate</text>
<circle cx="129.25" cy="963.25" r="3.40" fill="#0a14c8"/>
<circle cx="144.25" cy="975.00" r="3.40" fill="#0a14c8"/>
<circle cx="145.75" cy="965.00" r="3.40" fill="#0a14c8"/>
<circle cx="154.25" cy="955.25" r="3.40" fill="#0a14c8"/>
<circle cx="172.00" cy="932.50" r="3.40" fill="#0a14c8"/>
<circle cx="181.25" cy="898.75" r="3.40" fill="#0a14c8"/>
<line x1="129.25" y1="981.75" x2="181.75" y2="913.25" stroke="#333" stroke-width="1.1"/>
<text x="218.30" y="839.00" font-size="19.5" text-anchor="start" fill="#000" font-weight="bold" >P</text>
<rect x="283.30" y="915.97" width="32.70" height="115.03" fill="#0652a8"/>
<rect x="283.30" y="914.60" width="32.70" height="1.37" fill="#a5aab0"/>
<rect x="283.30" y="843.51" width="32.70" height="71.09" fill="#f0403a"/>
<rect x="283.30" y="837.65" width="32.70" height="5.86" fill="#f2a08c"/>
<rect x="283.30" y="835.70" width="32.70" height="1.95" fill="#a5aab0"/>
<rect x="320.00" y="881.01" width="32.70" height="149.99" fill="#0652a8"/>
<rect x="320.00" y="880.23" width="32.70" height="0.78" fill="#a5aab0"/>
<rect x="320.00" y="841.17" width="32.70" height="39.06" fill="#f0403a"/>
<rect x="320.00" y="839.02" width="32.70" height="2.15" fill="#f2a08c"/>
<rect x="320.00" y="837.07" width="32.70" height="1.95" fill="#c8835a"/>
<rect x="320.00" y="835.70" width="32.70" height="1.37" fill="#a5aab0"/>
<rect x="356.70" y="1012.64" width="32.70" height="18.36" fill="#0652a8"/>
<rect x="356.70" y="838.63" width="32.70" height="174.01" fill="#b8b3cf"/>
<rect x="356.70" y="835.70" width="32.70" height="2.93" fill="#f0403a"/>
<rect x="393.30" y="958.93" width="32.70" height="72.07" fill="#0652a8"/>
<rect x="393.30" y="862.65" width="32.70" height="96.28" fill="#b8b3cf"/>
<rect x="393.30" y="835.70" width="32.70" height="26.95" fill="#f0403a"/>
<line x1="278.30" y1="835.70" x2="278.30" y2="1031.00" stroke="#555555" stroke-width="1.3"/>
<line x1="270.30" y1="835.70" x2="278.30" y2="835.70" stroke="#555555" stroke-width="1.3"/>
<text x="268.30" y="840.85" font-size="14.3" text-anchor="end" fill="#1f1f1f" class="tx" >100</text>
<line x1="270.30" y1="884.53" x2="278.30" y2="884.53" stroke="#555555" stroke-width="1.3"/>
<text x="268.30" y="889.67" font-size="14.3" text-anchor="end" fill="#1f1f1f" class="tx" >75</text>
<line x1="270.30" y1="933.35" x2="278.30" y2="933.35" stroke="#555555" stroke-width="1.3"/>
<text x="268.30" y="938.50" font-size="14.3" text-anchor="end" fill="#1f1f1f" class="tx" >50</text>
<line x1="270.30" y1="982.17" x2="278.30" y2="982.17" stroke="#555555" stroke-width="1.3"/>
<text x="268.30" y="987.32" font-size="14.3" text-anchor="end" fill="#1f1f1f" class="tx" >25</text>
<line x1="270.30" y1="1031.00" x2="278.30" y2="1031.00" stroke="#555555" stroke-width="1.3"/>
<text x="268.30" y="1036.15" font-size="14.3" text-anchor="end" fill="#1f1f1f" class="tx" >0</text>
<line x1="278.30" y1="1031.00" x2="431.70" y2="1031.00" stroke="#555555" stroke-width="1.3"/>
<line x1="299.65" y1="1031.00" x2="299.65" y2="1039.00" stroke="#555555" stroke-width="1.3"/>
<line x1="336.35" y1="1031.00" x2="336.35" y2="1039.00" stroke="#555555" stroke-width="1.3"/>
<line x1="373.05" y1="1031.00" x2="373.05" y2="1039.00" stroke="#555555" stroke-width="1.3"/>
<line x1="409.65" y1="1031.00" x2="409.65" y2="1039.00" stroke="#555555" stroke-width="1.3"/>
<text x="307.15" y="1049.50" font-size="14.3" text-anchor="end" fill="#1f1f1f" class="tx"  transform="rotate(-45 307.15 1049.50)">PTZ</text>
<text x="343.85" y="1049.50" font-size="14.3" text-anchor="end" fill="#1f1f1f" class="tx"  transform="rotate(-45 343.85 1049.50)">BF839+PTZ</text>
<text x="380.55" y="1049.50" font-size="14.3" text-anchor="end" fill="#1f1f1f" class="tx"  transform="rotate(-45 380.55 1049.50)">ABX+PTZ</text>
<text x="417.15" y="1049.50" font-size="14.3" text-anchor="end" fill="#1f1f1f" class="tx"  transform="rotate(-45 417.15 1049.50)">ABX+BF839+PTZ</text>
<text x="241.50" y="931.70" font-size="14.3" text-anchor="middle" fill="#1f1f1f" class="tx"  transform="rotate(-90 241.50 931.70)">Relative abundance (%)</text>
<text x="434.00" y="851.70" font-size="14.3" text-anchor="start" fill="#1f1f1f" class="tx" >Taxonomy</text>
<rect x="433.30" y="859.80" width="8.00" height="7.00" fill="#f4777a"/>
<text x="445.00" y="868.30" font-size="14" text-anchor="start" fill="#1f1f1f" class="tx" >others</text>
<rect x="433.30" y="874.70" width="8.00" height="7.00" fill="#b3123f"/>
<text x="445.00" y="883.20" font-size="14" text-anchor="start" fill="#1f1f1f" class="tx" font-style="italic" >Fusobacteriota</text>
<rect x="433.30" y="889.60" width="8.00" height="7.00" fill="#dcb592"/>
<text x="445.00" y="898.10" font-size="14" text-anchor="start" fill="#1f1f1f" class="tx" font-style="italic" >Gemmatimonadota</text>
<rect x="433.30" y="904.50" width="8.00" height="7.00" fill="#ae9a88"/>
<text x="445.00" y="913.00" font-size="14" text-anchor="start" fill="#1f1f1f" class="tx" font-style="italic" >Campilobacterota</text>
<rect x="433.30" y="919.40" width="8.00" height="7.00" fill="#8ec0ea"/>
<text x="445.00" y="927.90" font-size="14" text-anchor="start" fill="#1f1f1f" class="tx" font-style="italic" >Verrucomicrobiota</text>
<rect x="433.30" y="934.30" width="8.00" height="7.00" fill="#a5aab0"/>
<text x="445.00" y="942.80" font-size="14" text-anchor="start" fill="#1f1f1f" class="tx" font-style="italic" >Desulfobacterota</text>
<rect x="433.30" y="949.20" width="8.00" height="7.00" fill="#c8835a"/>
<text x="445.00" y="957.70" font-size="14" text-anchor="start" fill="#1f1f1f" class="tx" font-style="italic" >Actinobacteriota</text>
<rect x="433.30" y="964.10" width="8.00" height="7.00" fill="#f2a08c"/>
<text x="445.00" y="972.60" font-size="14" text-anchor="start" fill="#1f1f1f" class="tx" font-style="italic" >Deferribacterota</text>
<rect x="433.30" y="979.00" width="8.00" height="7.00" fill="#f0403a"/>
<text x="445.00" y="987.50" font-size="14" text-anchor="start" fill="#1f1f1f" class="tx" >Firmicutes</text>
<rect x="433.30" y="993.90" width="8.00" height="7.00" fill="#b8b3cf"/>
<text x="445.00" y="1002.40" font-size="14" text-anchor="start" fill="#1f1f1f" class="tx" font-style="italic" >Proteobacteria</text>
<rect x="433.30" y="1008.80" width="8.00" height="7.00" fill="#0652a8"/>
<text x="445.00" y="1017.30" font-size="14" text-anchor="start" fill="#1f1f1f" class="tx" font-style="italic" >Bacteroidota</text>
<text x="566.00" y="839.00" font-size="19.5" text-anchor="start" fill="#000" font-weight="bold" >Q</text>
<text x="590.80" y="840.50" font-size="14.6" text-anchor="start" fill="#1f1f1f" class="tx" >Group</text>
<circle cx="592.80" cy="849.40" r="2.20" fill="#b9a3d6"/>
<text x="599.20" y="854.40" font-size="14.6" text-anchor="start" fill="#1f1f1f" class="tx" >ABX+BF839+PTZ</text>
<circle cx="592.80" cy="866.07" r="2.20" fill="#f6b97a"/>
<text x="599.20" y="871.07" font-size="14.6" text-anchor="start" fill="#1f1f1f" class="tx" >BF839+PTZ</text>
<circle cx="592.80" cy="882.74" r="2.20" fill="#5cb55c"/>
<text x="599.20" y="887.74" font-size="14.6" text-anchor="start" fill="#1f1f1f" class="tx" >ABX+PTZ</text>
<circle cx="592.80" cy="899.41" r="2.20" fill="#1f5fb0"/>
<text x="599.20" y="904.41" font-size="14.6" text-anchor="start" fill="#1f1f1f" class="tx" >PTZ</text>
<text x="685.30" y="882.50" font-size="14.5" text-anchor="start" fill="#1f1f1f" class="tx" >PERMANOVA <tspan font-style="italic">p</tspan>-value: 0.001</text>
<rect x="694.4" y="886.4" width="158.40" height="136.90" fill="none" stroke="#555" stroke-width="1"/>
<line x1="688.00" y1="918.90" x2="694.40" y2="918.90" stroke="#555" stroke-width="1"/>
<text x="684.40" y="923.90" font-size="14" text-anchor="end" fill="#1f1f1f" class="tx" >0.25</text>
<line x1="688.00" y1="952.50" x2="694.40" y2="952.50" stroke="#555" stroke-width="1"/>
<text x="684.40" y="957.50" font-size="14" text-anchor="end" fill="#1f1f1f" class="tx" >0.00</text>
<line x1="688.00" y1="985.80" x2="694.40" y2="985.80" stroke="#555" stroke-width="1"/>
<text x="684.40" y="990.80" font-size="14" text-anchor="end" fill="#1f1f1f" class="tx" >-0.25</text>
<line x1="688.00" y1="1018.90" x2="694.40" y2="1018.90" stroke="#555" stroke-width="1"/>
<text x="684.40" y="1023.90" font-size="14" text-anchor="end" fill="#1f1f1f" class="tx" >-0.50</text>
<line x1="725.80" y1="1023.30" x2="725.80" y2="1029.30" stroke="#555" stroke-width="1"/>
<text x="725.80" y="1044.80" font-size="14" text-anchor="middle" fill="#1f1f1f" class="tx" >-1.0</text>
<line x1="768.30" y1="1023.30" x2="768.30" y2="1029.30" stroke="#555" stroke-width="1"/>
<text x="768.30" y="1044.80" font-size="14" text-anchor="middle" fill="#1f1f1f" class="tx" >-0.5</text>
<line x1="810.80" y1="1023.30" x2="810.80" y2="1029.30" stroke="#555" stroke-width="1"/>
<text x="810.80" y="1044.80" font-size="14" text-anchor="middle" fill="#1f1f1f" class="tx" >0.0</text>
<text x="780.00" y="1059.50" font-size="14" text-anchor="middle" fill="#1f1f1f" class="tx" >PC1 74.95%</text>
<text x="652.80" y="954.40" font-size="14" text-anchor="middle" fill="#1f1f1f" class="tx"  transform="rotate(-90 652.80 954.40)">PC2 10.6%</text>
<ellipse cx="786.95" cy="926.75" rx="40.4" ry="18.6" transform="rotate(52.8 786.95 926.75)" fill="none" stroke="#b9a3d6" stroke-width="1.6"/>
<ellipse cx="772.55" cy="971.05" rx="85.2" ry="9.6" transform="rotate(-32.9 772.55 971.05)" fill="none" stroke="#5cb55c" stroke-width="1.8"/>
<ellipse cx="840.7" cy="943.4" rx="23.2" ry="1.3" transform="rotate(77 840.7 943.4)" fill="none" stroke="#f6b97a" stroke-width="2.2"/>
<ellipse cx="842.9" cy="968.5" rx="6.2" ry="1.7" transform="rotate(75 842.9 968.5)" fill="#1f5fb0" stroke="#1f5fb0" stroke-width="1.6"/>
<circle cx="779.72" cy="914.17" r="2.00" fill="#b9a3d6"/>
<circle cx="778.89" cy="919.17" r="2.00" fill="#b9a3d6"/>
<circle cx="785.83" cy="923.89" r="2.00" fill="#b9a3d6"/>
<circle cx="784.72" cy="929.44" r="2.00" fill="#b9a3d6"/>
<circle cx="801.94" cy="933.06" r="2.00" fill="#b9a3d6"/>
<circle cx="787.50" cy="941.11" r="2.00" fill="#b9a3d6"/>
<circle cx="811.67" cy="948.06" r="2.00" fill="#5cb55c"/>
<circle cx="780.56" cy="960.28" r="2.00" fill="#5cb55c"/>
<circle cx="760.28" cy="976.11" r="2.00" fill="#5cb55c"/>
<circle cx="759.72" cy="980.00" r="2.00" fill="#5cb55c"/>
<circle cx="761.11" cy="981.11" r="2.00" fill="#5cb55c"/>
<text x="888.00" y="839.00" font-size="19.5" text-anchor="start" fill="#000" font-weight="bold" >R</text>
<text x="1010.80" y="870.00" font-size="14.5" text-anchor="middle" fill="#1f1f1f" class="tx" font-style="italic" >Bacteroides</text>
<line x1="947.50" y1="884.50" x2="947.50" y2="1014.40" stroke="#555555" stroke-width="1.3"/>
<line x1="937.50" y1="1014.40" x2="947.50" y2="1014.40" stroke="#555555" stroke-width="1.3"/>
<text x="934.50" y="1019.62" font-size="14.5" text-anchor="end" fill="#1f1f1f" class="tx" >0.0</text>
<line x1="937.50" y1="971.10" x2="947.50" y2="971.10" stroke="#555555" stroke-width="1.3"/>
<text x="934.50" y="976.32" font-size="14.5" text-anchor="end" fill="#1f1f1f" class="tx" >0.1</text>
<line x1="937.50" y1="927.80" x2="947.50" y2="927.80" stroke="#555555" stroke-width="1.3"/>
<text x="934.50" y="933.02" font-size="14.5" text-anchor="end" fill="#1f1f1f" class="tx" >0.2</text>
<line x1="937.50" y1="884.50" x2="947.50" y2="884.50" stroke="#555555" stroke-width="1.3"/>
<text x="934.50" y="889.72" font-size="14.5" text-anchor="end" fill="#1f1f1f" class="tx" >0.3</text>
<line x1="937.50" y1="1014.40" x2="1078.90" y2="1014.40" stroke="#555555" stroke-width="1.3"/>
<line x1="966.70" y1="1014.40" x2="966.70" y2="1024.40" stroke="#555555" stroke-width="1.3"/>
<line x1="996.50" y1="1014.40" x2="996.50" y2="1024.40" stroke="#555555" stroke-width="1.3"/>
<line x1="1026.30" y1="1014.40" x2="1026.30" y2="1024.40" stroke="#555555" stroke-width="1.3"/>
<line x1="1056.60" y1="1014.40" x2="1056.60" y2="1024.40" stroke="#555555" stroke-width="1.3"/>
<circle cx="960.70" cy="1012.37" r="4.00" fill="#a6a6a6"/>
<circle cx="964.70" cy="1012.37" r="4.00" fill="#a6a6a6"/>
<circle cx="968.70" cy="1012.37" r="4.00" fill="#a6a6a6"/>
<circle cx="972.70" cy="1012.37" r="4.00" fill="#a6a6a6"/>
<line x1="956.70" y1="1011.37" x2="976.70" y2="1011.37" stroke="#222" stroke-width="1.3"/>
<line x1="966.70" y1="1010.37" x2="966.70" y2="1012.37" stroke="#222" stroke-width="1.3"/>
<line x1="962.70" y1="1010.37" x2="970.70" y2="1010.37" stroke="#222" stroke-width="1.3"/>
<line x1="962.70" y1="1012.37" x2="970.70" y2="1012.37" stroke="#222" stroke-width="1.3"/>
<circle cx="996.93" cy="983.55" r="4.00" fill="#f00000"/>
<circle cx="989.48" cy="989.94" r="4.00" fill="#f00000"/>
<circle cx="1003.32" cy="986.75" r="4.00" fill="#f00000"/>
<circle cx="996.93" cy="992.07" r="4.00" fill="#f00000"/>
<circle cx="1002.26" cy="995.26" r="4.00" fill="#f00000"/>
<circle cx="990.55" cy="998.46" r="4.00" fill="#f00000"/>
<circle cx="999.06" cy="997.39" r="4.00" fill="#f00000"/>
<line x1="986.50" y1="991.64" x2="1006.50" y2="991.64" stroke="#222" stroke-width="1.3"/>
<line x1="996.50" y1="988.88" x2="996.50" y2="994.41" stroke="#222" stroke-width="1.3"/>
<line x1="992.50" y1="988.88" x2="1000.50" y2="988.88" stroke="#222" stroke-width="1.3"/>
<line x1="992.50" y1="994.41" x2="1000.50" y2="994.41" stroke="#222" stroke-width="1.3"/>
<circle cx="1018.30" cy="1014.40" r="4.00" fill="#7a0f8e"/>
<circle cx="1023.30" cy="1014.40" r="4.00" fill="#7a0f8e"/>
<circle cx="1029.30" cy="1014.40" r="4.00" fill="#7a0f8e"/>
<circle cx="1034.30" cy="1014.40" r="4.00" fill="#7a0f8e"/>
<line x1="1016.30" y1="1014.40" x2="1036.30" y2="1014.40" stroke="#3a0848" stroke-width="1.3"/>
<circle cx="1056.56" cy="912.21" r="4.20" fill="#0a14c8"/>
<circle cx="1056.56" cy="921.16" r="4.20" fill="#0a14c8"/>
<circle cx="1056.56" cy="956.93" r="4.20" fill="#0a14c8"/>
<circle cx="1056.56" cy="963.75" r="4.20" fill="#0a14c8"/>
<circle cx="1050.17" cy="988.45" r="4.20" fill="#0a14c8"/>
<circle cx="1062.95" cy="984.62" r="4.20" fill="#0a14c8"/>
<line x1="1046.60" y1="954.80" x2="1066.60" y2="954.80" stroke="#222" stroke-width="1.3"/>
<line x1="1056.60" y1="942.03" x2="1056.60" y2="967.58" stroke="#222" stroke-width="1.3"/>
<line x1="1050.60" y1="942.03" x2="1062.60" y2="942.03" stroke="#222" stroke-width="1.3"/>
<line x1="1050.60" y1="967.58" x2="1062.60" y2="967.58" stroke="#222" stroke-width="1.3"/>
<text x="907.50" y="947.40" font-size="14.5" text-anchor="middle" fill="#1f1f1f" class="tx"  transform="rotate(-90 907.50 947.40)">Relative abundance</text>
<text x="974.20" y="1034.90" font-size="14" text-anchor="end" fill="#1f1f1f" class="tx"  transform="rotate(-45 974.20 1034.90)">PTZ</text>
<text x="1004.00" y="1034.90" font-size="14" text-anchor="end" fill="#1f1f1f" class="tx"  transform="rotate(-45 1004.00 1034.90)">BF839+PTZ</text>
<text x="1033.80" y="1034.90" font-size="14" text-anchor="end" fill="#1f1f1f" class="tx"  transform="rotate(-45 1033.80 1034.90)">ABX+PTZ</text>
<text x="1064.10" y="1034.90" font-size="14" text-anchor="end" fill="#1f1f1f" class="tx"  transform="rotate(-45 1064.10 1034.90)">ABX+BF839+PTZ</text>
<path d="M996.50,904.80 V897.20 H1056.60 V904.80" stroke="#555555" fill="none" stroke-width="1.1"/>
<text x="1026.55" y="896.40" font-size="14" text-anchor="middle" fill="#1f1f1f" class="tx" >***</text>
<text x="3.20" y="1147.50" font-size="19.5" text-anchor="start" fill="#000" font-weight="bold" >S</text>
<text x="136.30" y="1149.00" font-size="14.5" text-anchor="middle" fill="#1f1f1f" class="tx" font-style="italic" >Lactobacillus</text>
<line x1="72.40" y1="1158.30" x2="72.40" y2="1288.20" stroke="#555555" stroke-width="1.3"/>
<line x1="62.40" y1="1288.20" x2="72.40" y2="1288.20" stroke="#555555" stroke-width="1.3"/>
<text x="59.40" y="1293.42" font-size="14.5" text-anchor="end" fill="#1f1f1f" class="tx" >0.0</text>
<line x1="62.40" y1="1244.90" x2="72.40" y2="1244.90" stroke="#555555" stroke-width="1.3"/>
<text x="59.40" y="1250.12" font-size="14.5" text-anchor="end" fill="#1f1f1f" class="tx" >0.1</text>
<line x1="62.40" y1="1201.60" x2="72.40" y2="1201.60" stroke="#555555" stroke-width="1.3"/>
<text x="59.40" y="1206.82" font-size="14.5" text-anchor="end" fill="#1f1f1f" class="tx" >0.2</text>
<line x1="62.40" y1="1158.30" x2="72.40" y2="1158.30" stroke="#555555" stroke-width="1.3"/>
<text x="59.40" y="1163.52" font-size="14.5" text-anchor="end" fill="#1f1f1f" class="tx" >0.3</text>
<line x1="60.70" y1="1288.20" x2="203.40" y2="1288.20" stroke="#555555" stroke-width="1.3"/>
<line x1="91.50" y1="1288.20" x2="91.50" y2="1298.90" stroke="#555555" stroke-width="1.3"/>
<line x1="121.30" y1="1288.20" x2="121.30" y2="1298.90" stroke="#555555" stroke-width="1.3"/>
<line x1="151.30" y1="1288.20" x2="151.30" y2="1298.90" stroke="#555555" stroke-width="1.3"/>
<line x1="181.50" y1="1288.20" x2="181.50" y2="1298.90" stroke="#555555" stroke-width="1.3"/>
<circle cx="85.50" cy="1285.40" r="4.00" fill="#a6a6a6"/>
<circle cx="89.50" cy="1285.40" r="4.00" fill="#a6a6a6"/>
<circle cx="93.50" cy="1285.40" r="4.00" fill="#a6a6a6"/>
<circle cx="97.50" cy="1285.40" r="4.00" fill="#a6a6a6"/>
<line x1="81.50" y1="1284.40" x2="101.50" y2="1284.40" stroke="#222" stroke-width="1.3"/>
<line x1="91.50" y1="1283.97" x2="91.50" y2="1284.82" stroke="#222" stroke-width="1.3"/>
<line x1="87.50" y1="1283.97" x2="95.50" y2="1283.97" stroke="#222" stroke-width="1.3"/>
<line x1="87.50" y1="1284.82" x2="95.50" y2="1284.82" stroke="#222" stroke-width="1.3"/>
<circle cx="127.77" cy="1268.00" r="4.00" fill="#f00000"/>
<circle cx="116.06" cy="1271.62" r="4.00" fill="#f00000"/>
<circle cx="122.44" cy="1276.52" r="4.00" fill="#f00000"/>
<circle cx="126.70" cy="1278.65" r="4.00" fill="#f00000"/>
<circle cx="117.12" cy="1278.01" r="4.00" fill="#f00000"/>
<circle cx="123.51" cy="1273.75" r="4.00" fill="#f00000"/>
<line x1="111.30" y1="1273.75" x2="131.30" y2="1273.75" stroke="#222" stroke-width="1.3"/>
<line x1="121.30" y1="1271.62" x2="121.30" y2="1275.88" stroke="#222" stroke-width="1.3"/>
<line x1="117.30" y1="1271.62" x2="125.30" y2="1271.62" stroke="#222" stroke-width="1.3"/>
<line x1="117.30" y1="1275.88" x2="125.30" y2="1275.88" stroke="#222" stroke-width="1.3"/>
<circle cx="151.62" cy="1271.19" r="4.00" fill="#6b0f80"/>
<circle cx="146.93" cy="1287.16" r="4.00" fill="#6b0f80"/>
<circle cx="157.58" cy="1287.16" r="4.00" fill="#6b0f80"/>
<circle cx="151.62" cy="1285.03" r="4.00" fill="#6b0f80"/>
<circle cx="149.06" cy="1283.97" r="4.00" fill="#6b0f80"/>
<line x1="141.30" y1="1284.40" x2="161.30" y2="1284.40" stroke="#222" stroke-width="1.3"/>
<line x1="151.30" y1="1281.41" x2="151.30" y2="1287.38" stroke="#222" stroke-width="1.3"/>
<line x1="146.30" y1="1281.41" x2="156.30" y2="1281.41" stroke="#222" stroke-width="1.3"/>
<line x1="146.30" y1="1287.38" x2="156.30" y2="1287.38" stroke="#222" stroke-width="1.3"/>
<circle cx="181.43" cy="1209.86" r="4.20" fill="#0a14c8"/>
<circle cx="181.43" cy="1224.98" r="4.20" fill="#0a14c8"/>
<circle cx="174.62" cy="1240.32" r="4.20" fill="#0a14c8"/>
<circle cx="187.39" cy="1238.19" r="4.20" fill="#0a14c8"/>
<circle cx="175.68" cy="1249.90" r="4.20" fill="#0a14c8"/>
<circle cx="187.39" cy="1248.19" r="4.20" fill="#0a14c8"/>
<line x1="170.50" y1="1235.42" x2="192.50" y2="1235.42" stroke="#222" stroke-width="1.3"/>
<line x1="181.50" y1="1229.24" x2="181.50" y2="1241.81" stroke="#222" stroke-width="1.3"/>
<line x1="175.50" y1="1229.24" x2="187.50" y2="1229.24" stroke="#222" stroke-width="1.3"/>
<line x1="175.50" y1="1241.81" x2="187.50" y2="1241.81" stroke="#222" stroke-width="1.3"/>
<text x="33.00" y="1222.20" font-size="14.5" text-anchor="middle" fill="#1f1f1f" class="tx"  transform="rotate(-90 33.00 1222.20)">Relative abundance</text>
<text x="99.00" y="1309.40" font-size="14" text-anchor="end" fill="#1f1f1f" class="tx"  transform="rotate(-45 99.00 1309.40)">PTZ</text>
<text x="128.80" y="1309.40" font-size="14" text-anchor="end" fill="#1f1f1f" class="tx"  transform="rotate(-45 128.80 1309.40)">BF839+PTZ</text>
<text x="158.80" y="1309.40" font-size="14" text-anchor="end" fill="#1f1f1f" class="tx"  transform="rotate(-45 158.80 1309.40)">ABX+PTZ</text>
<text x="189.00" y="1309.40" font-size="14" text-anchor="end" fill="#1f1f1f" class="tx"  transform="rotate(-45 189.00 1309.40)">ABX+BF839+PTZ</text>
<path d="M122.90,1201.45 V1193.75 H182.70 V1201.45" stroke="#555555" fill="none" stroke-width="1.1"/>
<text x="152.80" y="1192.95" font-size="14" text-anchor="middle" fill="#1f1f1f" class="tx" >**</text>
<text x="218.30" y="1147.50" font-size="19.5" text-anchor="start" fill="#000" font-weight="bold" >T</text>
<text x="462.30" y="1155.30" font-size="14.5" text-anchor="middle" fill="#1f1f1f" class="tx" >24 h</text>
<text x="531.00" y="1155.30" font-size="14.5" text-anchor="middle" fill="#1f1f1f" class="tx" >48 h</text>
<text x="594.20" y="1155.30" font-size="14.5" text-anchor="middle" fill="#1f1f1f" class="tx" >72 h</text>
<text x="658.50" y="1155.30" font-size="14.5" text-anchor="middle" fill="#1f1f1f" class="tx" >96 h</text>
<defs>
<linearGradient id="plate" x1="0" y1="0" x2="0" y2="1">
<stop offset="0" stop-color="#cfd3d7"/><stop offset="0.055" stop-color="#b4b9be"/><stop offset="0.075" stop-color="#6a7076"/><stop offset="0.5" stop-color="#62686e"/><stop offset="0.925" stop-color="#686e74"/><stop offset="0.945" stop-color="#b4b9be"/><stop offset="1" stop-color="#d2d6da"/></linearGradient>
<radialGradient id="amb1" cx="0.5" cy="0.5" r="0.5"><stop offset="0" stop-color="#b89a18"/><stop offset="0.42" stop-color="#bf9c18"/><stop offset="0.5" stop-color="#a08414"/><stop offset="0.6" stop-color="#e8d690"/><stop offset="0.68" stop-color="#dcae2c"/><stop offset="0.8" stop-color="#d6a61e"/><stop offset="0.92" stop-color="#c89818"/><stop offset="0.96" stop-color="#9c7c1c"/><stop offset="1" stop-color="#a9aca8"/></radialGradient>
<radialGradient id="amb1d" cx="0.5" cy="0.5" r="0.5"><stop offset="0" stop-color="#7e7c3a"/><stop offset="0.42" stop-color="#8e8a36"/><stop offset="0.5" stop-color="#9a8420"/><stop offset="0.6" stop-color="#e6d490"/><stop offset="0.68" stop-color="#dcae2c"/><stop offset="0.8" stop-color="#d6a61e"/><stop offset="0.92" stop-color="#c89818"/><stop offset="0.96" stop-color="#9c7c1c"/><stop offset="1" stop-color="#a9aca8"/></radialGradient>
<radialGradient id="amb2" cx="0.5" cy="0.5" r="0.5"><stop offset="0" stop-color="#d6980e"/><stop offset="0.46" stop-color="#dea218"/><stop offset="0.56" stop-color="#f0d488"/><stop offset="0.66" stop-color="#e4ae2a"/><stop offset="0.88" stop-color="#dca818"/><stop offset="0.95" stop-color="#b48c28"/><stop offset="1" stop-color="#aeb0aa"/></radialGradient>
<radialGradient id="emp" cx="0.5" cy="0.5" r="0.5"><stop offset="0" stop-color="#a2a7ac"/><stop offset="0.5" stop-color="#9ba1a6"/><stop offset="0.56" stop-color="#e4e7ea"/><stop offset="0.63" stop-color="#cdd1d4"/><stop offset="0.68" stop-color="#7a8086"/><stop offset="0.8" stop-color="#72787e"/><stop offset="0.86" stop-color="#c6cace"/><stop offset="0.95" stop-color="#e2e5e8"/><stop offset="1" stop-color="#b8bdc2"/></radialGradient>
</defs>
<rect x="419.30" y="1160.40" width="269.70" height="203.10" fill="url(#plate)"/>
<rect x="419.30" y="1165.40" width="269.70" height="1.20" fill="#8a9096"/>
<rect x="419.30" y="1356.50" width="269.70" height="1.20" fill="#8a9096"/>
<clipPath id="pc"><rect x="419.3" y="1160.4" width="269.7" height="203.1"/></clipPath>
<g clip-path="url(#pc)"><ellipse cx="419" cy="1291" rx="6" ry="10" fill="#c9a79a"/><ellipse cx="694" cy="1293" rx="20" ry="15" fill="#c9aaa2"/></g>
<circle cx="461.80" cy="1198.20" r="31.20" fill="#a9aeb3" stroke="#d0d4d8" stroke-width="1.1"/>
<circle cx="461.80" cy="1198.20" r="29.30" fill="url(#amb1)"/>
<circle cx="526.00" cy="1198.20" r="31.20" fill="#a9aeb3" stroke="#d0d4d8" stroke-width="1.1"/>
<circle cx="526.00" cy="1198.20" r="29.30" fill="url(#amb1)"/>
<circle cx="591.80" cy="1198.20" r="31.20" fill="#a9aeb3" stroke="#d0d4d8" stroke-width="1.1"/>
<circle cx="591.80" cy="1198.20" r="29.30" fill="url(#amb1d)"/>
<circle cx="656.40" cy="1198.20" r="31.20" fill="#a9aeb3" stroke="#d0d4d8" stroke-width="1.1"/>
<circle cx="656.40" cy="1198.20" r="29.30" fill="url(#amb1d)"/>
<circle cx="461.80" cy="1262.80" r="31.20" fill="#a9aeb3" stroke="#d0d4d8" stroke-width="1.1"/>
<circle cx="461.80" cy="1262.80" r="30.00" fill="url(#emp)"/>
<line x1="466.98" y1="1282.12" x2="468.27" y2="1286.95" stroke="#d4d8db" stroke-width="1.3"/>
<line x1="454.96" y1="1281.59" x2="453.25" y2="1286.29" stroke="#d4d8db" stroke-width="1.3"/>
<line x1="443.01" y1="1269.64" x2="438.31" y2="1271.35" stroke="#d4d8db" stroke-width="1.3"/>
<line x1="445.42" y1="1251.33" x2="441.32" y2="1248.46" stroke="#d4d8db" stroke-width="1.3"/>
<line x1="454.96" y1="1244.01" x2="453.25" y2="1239.31" stroke="#d4d8db" stroke-width="1.3"/>
<line x1="471.80" y1="1245.48" x2="474.30" y2="1241.15" stroke="#d4d8db" stroke-width="1.3"/>
<line x1="479.93" y1="1254.35" x2="484.46" y2="1252.23" stroke="#d4d8db" stroke-width="1.3"/>
<circle cx="526.00" cy="1262.80" r="31.20" fill="#a9aeb3" stroke="#d0d4d8" stroke-width="1.1"/>
<circle cx="526.00" cy="1262.80" r="30.00" fill="url(#emp)"/>
<line x1="524.26" y1="1282.72" x2="523.82" y2="1287.70" stroke="#d4d8db" stroke-width="1.3"/>
<line x1="513.14" y1="1278.12" x2="509.93" y2="1281.95" stroke="#d4d8db" stroke-width="1.3"/>
<line x1="506.00" y1="1262.80" x2="501.00" y2="1262.80" stroke="#d4d8db" stroke-width="1.3"/>
<line x1="514.53" y1="1246.42" x2="511.66" y2="1242.32" stroke="#d4d8db" stroke-width="1.3"/>
<line x1="526.00" y1="1242.80" x2="526.00" y2="1237.80" stroke="#d4d8db" stroke-width="1.3"/>
<line x1="541.32" y1="1249.94" x2="545.15" y2="1246.73" stroke="#d4d8db" stroke-width="1.3"/>
<line x1="545.92" y1="1261.06" x2="550.90" y2="1260.62" stroke="#d4d8db" stroke-width="1.3"/>
<circle cx="591.80" cy="1262.80" r="31.20" fill="#a9aeb3" stroke="#d0d4d8" stroke-width="1.1"/>
<circle cx="591.80" cy="1262.80" r="30.00" fill="url(#emp)"/>
<line x1="583.35" y1="1280.93" x2="581.23" y2="1285.46" stroke="#d4d8db" stroke-width="1.3"/>
<line x1="574.48" y1="1272.80" x2="570.15" y2="1275.30" stroke="#d4d8db" stroke-width="1.3"/>
<line x1="573.01" y1="1255.96" x2="568.31" y2="1254.25" stroke="#d4d8db" stroke-width="1.3"/>
<line x1="586.62" y1="1243.48" x2="585.33" y2="1238.65" stroke="#d4d8db" stroke-width="1.3"/>
<line x1="598.64" y1="1244.01" x2="600.35" y2="1239.31" stroke="#d4d8db" stroke-width="1.3"/>
<line x1="610.59" y1="1255.96" x2="615.29" y2="1254.25" stroke="#d4d8db" stroke-width="1.3"/>
<line x1="611.12" y1="1267.98" x2="615.95" y2="1269.27" stroke="#d4d8db" stroke-width="1.3"/>
<circle cx="656.40" cy="1262.80" r="31.20" fill="#a9aeb3" stroke="#d0d4d8" stroke-width="1.1"/>
<circle cx="656.40" cy="1262.80" r="30.00" fill="url(#emp)"/>
<line x1="642.26" y1="1276.94" x2="638.72" y2="1280.48" stroke="#d4d8db" stroke-width="1.3"/>
<line x1="636.70" y1="1266.27" x2="631.78" y2="1267.14" stroke="#d4d8db" stroke-width="1.3"/>
<line x1="641.08" y1="1249.94" x2="637.25" y2="1246.73" stroke="#d4d8db" stroke-width="1.3"/>
<line x1="658.14" y1="1242.88" x2="658.58" y2="1237.90" stroke="#d4d8db" stroke-width="1.3"/>
<line x1="669.26" y1="1247.48" x2="672.47" y2="1243.65" stroke="#d4d8db" stroke-width="1.3"/>
<line x1="676.40" y1="1262.80" x2="681.40" y2="1262.80" stroke="#d4d8db" stroke-width="1.3"/>
<line x1="672.78" y1="1274.27" x2="676.88" y2="1277.14" stroke="#d4d8db" stroke-width="1.3"/>
<circle cx="461.80" cy="1326.90" r="31.20" fill="#a9aeb3" stroke="#d0d4d8" stroke-width="1.1"/>
<circle cx="461.80" cy="1326.90" r="29.30" fill="url(#amb2)"/>
<circle cx="526.00" cy="1326.90" r="31.20" fill="#a9aeb3" stroke="#d0d4d8" stroke-width="1.1"/>
<circle cx="526.00" cy="1326.90" r="29.30" fill="url(#amb2)"/>
<circle cx="591.80" cy="1326.90" r="31.20" fill="#a9aeb3" stroke="#d0d4d8" stroke-width="1.1"/>
<circle cx="591.80" cy="1326.90" r="29.30" fill="url(#amb2)"/>
<circle cx="656.40" cy="1326.90" r="31.20" fill="#a9aeb3" stroke="#d0d4d8" stroke-width="1.1"/>
<circle cx="656.40" cy="1326.90" r="29.30" fill="url(#amb2)"/>
<circle cx="461.6" cy="1198.1" r="31" fill="none" stroke="#fff" stroke-width="1.6" stroke-dasharray="3,2.2"/>
<circle cx="459.9" cy="1197.8" r="17.6" fill="none" stroke="#fff" stroke-width="1.8" stroke-dasharray="3,2.2"/>
<line x1="392.20" y1="1161.50" x2="459.20" y2="1199.70" stroke="#e0191f" stroke-width="1.7"/>
<line x1="401.00" y1="1207.00" x2="437.50" y2="1207.50" stroke="#2a90d8" stroke-width="1.7"/>
<line x1="400.00" y1="1297.50" x2="459.20" y2="1327.20" stroke="#e0191f" stroke-width="1.7"/>
<line x1="408.00" y1="1341.50" x2="441.50" y2="1341.50" stroke="#2a90d8" stroke-width="1.7"/>
<text x="385.30" y="1166.50" font-size="14.5" text-anchor="end" fill="#1f1f1f" class="tx" >GAM medium</text>
<text x="396.00" y="1210.00" font-size="14.5" text-anchor="end" fill="#1f1f1f" class="tx" ><tspan font-style="italic">L. reuteri</tspan>+M.R.S. medium</text>
<text x="396.00" y="1300.70" font-size="14.5" text-anchor="end" fill="#1f1f1f" class="tx" >BF839+GAM medium</text>
<text x="402.00" y="1345.60" font-size="14.5" text-anchor="end" fill="#1f1f1f" class="tx" ><tspan font-style="italic">L. reuteri</tspan>+M.R.S. medium</text>
<text x="706.50" y="1194.80" font-size="14" text-anchor="middle" fill="#1f1f1f" class="tx"  transform="rotate(-90 706.50 1194.80)">Control</text>
<text x="706.50" y="1317.50" font-size="14" text-anchor="middle" fill="#1f1f1f" class="tx"  transform="rotate(-90 706.50 1317.50)">Co-cultrue</text>
<line x1="783.90" y1="1185.10" x2="783.90" y2="1314.40" stroke="#555555" stroke-width="1.3"/>
<line x1="772.90" y1="1314.40" x2="783.90" y2="1314.40" stroke="#555555" stroke-width="1.3"/>
<text x="769.40" y="1319.55" font-size="14.3" text-anchor="end" fill="#1f1f1f" class="tx" >0.0</text>
<line x1="772.90" y1="1288.54" x2="783.90" y2="1288.54" stroke="#555555" stroke-width="1.3"/>
<text x="769.40" y="1293.69" font-size="14.3" text-anchor="end" fill="#1f1f1f" class="tx" >0.2</text>
<line x1="772.90" y1="1262.68" x2="783.90" y2="1262.68" stroke="#555555" stroke-width="1.3"/>
<text x="769.40" y="1267.83" font-size="14.3" text-anchor="end" fill="#1f1f1f" class="tx" >0.4</text>
<line x1="772.90" y1="1236.82" x2="783.90" y2="1236.82" stroke="#555555" stroke-width="1.3"/>
<text x="769.40" y="1241.97" font-size="14.3" text-anchor="end" fill="#1f1f1f" class="tx" >0.6</text>
<line x1="772.90" y1="1210.96" x2="783.90" y2="1210.96" stroke="#555555" stroke-width="1.3"/>
<text x="769.40" y="1216.11" font-size="14.3" text-anchor="end" fill="#1f1f1f" class="tx" >0.8</text>
<line x1="772.90" y1="1185.10" x2="783.90" y2="1185.10" stroke="#555555" stroke-width="1.3"/>
<text x="769.40" y="1190.25" font-size="14.3" text-anchor="end" fill="#1f1f1f" class="tx" >1.0</text>
<line x1="772.90" y1="1314.40" x2="919.30" y2="1314.40" stroke="#555555" stroke-width="1.3"/>
<line x1="783.90" y1="1314.40" x2="783.90" y2="1325.90" stroke="#555555" stroke-width="1.3"/>
<text x="783.90" y="1341.10" font-size="14.3" text-anchor="middle" fill="#1f1f1f" class="tx" >0</text>
<line x1="816.40" y1="1314.40" x2="816.40" y2="1325.90" stroke="#555555" stroke-width="1.3"/>
<text x="816.40" y="1341.10" font-size="14.3" text-anchor="middle" fill="#1f1f1f" class="tx" >24</text>
<line x1="848.20" y1="1314.40" x2="848.20" y2="1325.90" stroke="#555555" stroke-width="1.3"/>
<text x="848.20" y="1341.10" font-size="14.3" text-anchor="middle" fill="#1f1f1f" class="tx" >48</text>
<line x1="880.70" y1="1314.40" x2="880.70" y2="1325.90" stroke="#555555" stroke-width="1.3"/>
<text x="880.70" y="1341.10" font-size="14.3" text-anchor="middle" fill="#1f1f1f" class="tx" >72</text>
<line x1="913.90" y1="1314.40" x2="913.90" y2="1325.90" stroke="#555555" stroke-width="1.3"/>
<text x="913.90" y="1341.10" font-size="14.3" text-anchor="middle" fill="#1f1f1f" class="tx" >96</text>
<text x="925.00" y="1341.10" font-size="14.5" text-anchor="start" fill="#1f1f1f" class="tx" >(h)</text>
<text x="738.50" y="1254.80" font-size="14" text-anchor="middle" fill="#1f1f1f" class="tx"  transform="rotate(-90 738.50 1254.80)">OD at 600 nm</text>
<path d="M783.90,1310.52 L816.40,1309.23 L848.20,1298.88 L880.70,1283.37 L913.90,1258.80" stroke="#1a22d6" fill="none" stroke-width="2"/>
<line x1="848.20" y1="1297.59" x2="848.20" y2="1300.18" stroke="#1a22d6" stroke-width="2"/>
<line x1="845.20" y1="1297.59" x2="851.20" y2="1297.59" stroke="#1a22d6" stroke-width="1.6"/>
<line x1="845.20" y1="1300.18" x2="851.20" y2="1300.18" stroke="#1a22d6" stroke-width="1.6"/>
<line x1="880.70" y1="1281.43" x2="880.70" y2="1285.31" stroke="#1a22d6" stroke-width="2"/>
<line x1="877.70" y1="1281.43" x2="883.70" y2="1281.43" stroke="#1a22d6" stroke-width="1.6"/>
<line x1="877.70" y1="1285.31" x2="883.70" y2="1285.31" stroke="#1a22d6" stroke-width="1.6"/>
<line x1="913.90" y1="1254.92" x2="913.90" y2="1262.68" stroke="#1a22d6" stroke-width="2"/>
<line x1="910.90" y1="1254.92" x2="916.90" y2="1254.92" stroke="#1a22d6" stroke-width="1.6"/>
<line x1="910.90" y1="1262.68" x2="916.90" y2="1262.68" stroke="#1a22d6" stroke-width="1.6"/>
<path d="M783.90,1310.52 L816.40,1309.23 L848.20,1285.95 L880.70,1258.80 L913.90,1199.32" stroke="#ea2027" fill="none" stroke-width="2"/>
<line x1="848.20" y1="1282.72" x2="848.20" y2="1289.19" stroke="#ea2027" stroke-width="2"/>
<line x1="845.20" y1="1282.72" x2="851.20" y2="1282.72" stroke="#ea2027" stroke-width="1.6"/>
<line x1="845.20" y1="1289.19" x2="851.20" y2="1289.19" stroke="#ea2027" stroke-width="1.6"/>
<line x1="880.70" y1="1254.92" x2="880.70" y2="1262.68" stroke="#ea2027" stroke-width="2"/>
<line x1="877.70" y1="1254.92" x2="883.70" y2="1254.92" stroke="#ea2027" stroke-width="1.6"/>
<line x1="877.70" y1="1262.68" x2="883.70" y2="1262.68" stroke="#ea2027" stroke-width="1.6"/>
<line x1="913.90" y1="1192.86" x2="913.90" y2="1205.79" stroke="#ea2027" stroke-width="2"/>
<line x1="910.90" y1="1192.86" x2="916.90" y2="1192.86" stroke="#ea2027" stroke-width="1.6"/>
<line x1="910.90" y1="1205.79" x2="916.90" y2="1205.79" stroke="#ea2027" stroke-width="1.6"/>
<text x="848.70" y="1318.50" font-size="14.5" text-anchor="middle" fill="#1f1f1f" class="tx" >*</text>
<text x="881.20" y="1318.50" font-size="14.5" text-anchor="middle" fill="#1f1f1f" class="tx" >**</text>
<text x="914.40" y="1318.50" font-size="14.5" text-anchor="middle" fill="#1f1f1f" class="tx" >***</text>
<line x1="787.50" y1="1191.60" x2="815.70" y2="1191.60" stroke="#1a22d6" stroke-width="2"/>
<text x="822.90" y="1196.60" font-size="14" text-anchor="start" fill="#1f1f1f" class="tx" >Control</text>
<line x1="787.50" y1="1209.30" x2="815.70" y2="1209.30" stroke="#ea2027" stroke-width="2"/>
<text x="822.90" y="1214.30" font-size="14" text-anchor="start" fill="#1f1f1f" class="tx" >Co-culture</text>
</svg></body></html>
